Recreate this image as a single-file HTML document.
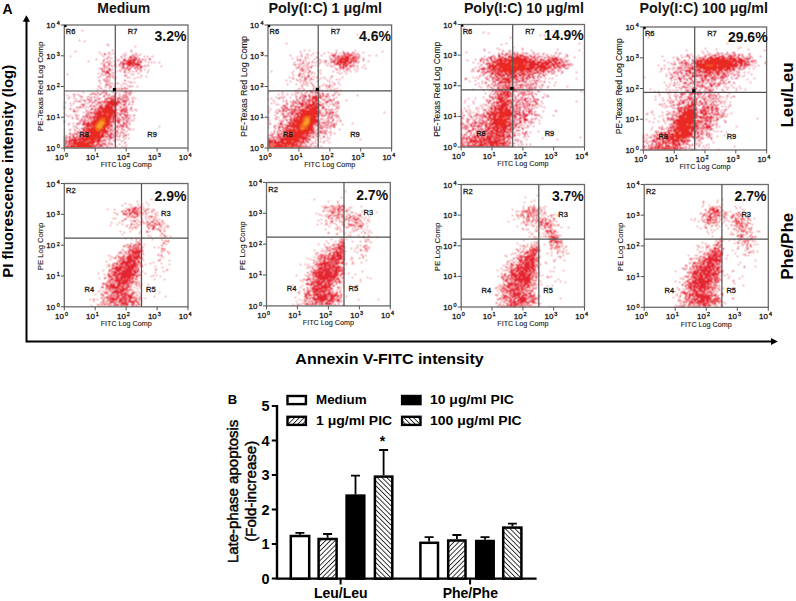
<!DOCTYPE html><html><head><meta charset="utf-8"><style>html,body{margin:0;padding:0;background:#fff;}svg{display:block;}text{font-family:"Liberation Sans", sans-serif;}.tk{font-size:8px;fill:#1a1a1a;}.sup{font-size:5.5px;fill:#1a1a1a;}.rl{font-size:7.5px;fill:#1a1a1a;}.ax{font-size:7.2px;fill:#1a1a1a;}.pct{font-size:14px;font-weight:bold;fill:#111;}.hd{font-size:14px;font-weight:bold;fill:#111;}.bb{font-weight:bold;fill:#000;}.tk,.sup,.rl{stroke:#1a1a1a;stroke-width:0.3px;}.ax{stroke:#1a1a1a;stroke-width:0.12px;}.rg{fill:#000;stroke:#000;stroke-width:0.45px;}</style></head><body>
<svg width="796" height="601" viewBox="0 0 796 601">
<defs><pattern id="hf" patternUnits="userSpaceOnUse" width="3.4" height="3.4" patternTransform="rotate(45)"><rect width="3.4" height="3.4" fill="#fff"/><rect width="0.9" height="3.4" fill="#222"/></pattern><pattern id="hb" patternUnits="userSpaceOnUse" width="3.4" height="3.4" patternTransform="rotate(-45)"><rect width="3.4" height="3.4" fill="#fff"/><rect width="0.9" height="3.4" fill="#222"/></pattern><filter id="bl" x="-5%" y="-5%" width="110%" height="110%"><feConvolveMatrix order="3" kernelMatrix="1 2 1 2 4 2 1 2 1" divisor="16" edgeMode="none" preserveAlpha="false"/></filter></defs>
<rect width="796" height="601" fill="#fff"/>
<text x="2.5" y="13.6" class="bb" style="font-size:14px">A</text>
<text x="123.8" y="12.8" text-anchor="middle" class="hd">Medium</text>
<text x="325.2" y="12.8" text-anchor="middle" class="hd" textLength="113.5" lengthAdjust="spacingAndGlyphs">Poly(I:C) 1 μg/ml</text>
<text x="523.9" y="12.8" text-anchor="middle" class="hd" textLength="120" lengthAdjust="spacingAndGlyphs">Poly(I:C) 10 μg/ml</text>
<text x="703.7" y="12.8" text-anchor="middle" class="hd" textLength="128.4" lengthAdjust="spacingAndGlyphs">Poly(I:C) 100 μg/ml</text>
<path d="M26.5 21 V341.5 H772" fill="none" stroke="#000" stroke-width="2"/>
<path d="M26.4 15.3 L22.8 21.8 L30 21.8 Z" fill="#000"/>
<path d="M777.8 341.5 L771 338.1 L771 345 Z" fill="#000"/>
<text transform="translate(13.4,171.3) rotate(-90) scale(1.07,0.98)" text-anchor="middle" class="bb" style="font-size:14px">PI fluorescence intensity (log)</text>
<text transform="translate(389.5,363.7) scale(1.0,0.92)" text-anchor="middle" class="bb" style="font-size:16px">Annexin V-FITC intensity</text>
<text transform="translate(793.2,95) rotate(-90)" text-anchor="middle" class="bb" style="font-size:17px">Leu/Leu</text>
<text transform="translate(793.2,246.3) rotate(-90)" text-anchor="middle" class="bb" style="font-size:17px">Phe/Phe</text>
<g shape-rendering="crispEdges" filter="url(#bl)"><path d="M82 30.5h1m-4 10h1m4 1h1m22 3h1m0 1h1m26 1h1m-24 4h1m18 0h1m-57 1h1m55 0h1m-33 1h1m9 0h1m-6 1h1m3 0h1m4 0h1m11 0h1m10 0h1m-36 1h1m2 0h2m4 0h1m12 0h1m9 0h1m1 0h1m4 0h1m-16 1h1m6 0h1m3 0h1m1 0h1m-69 1h1m32 0h1m4 0h1m12 0h1m2 0h1m5 0h2m1 0h2m9 0h1m2 0h1m4 0h1m-44 1h1m5 0h1m5 0h1m7 0h3m2 0h2m1 0h1m-32 1h2m3 0h1m13 0h1m9 0h2m2 0h1m9 0h1m-54 1h1m7 0h1m13 0h1m4 0h2m10 0h2m1 0h1m1 0h1m1 0h2m1 0h1m3 0h2m-48 1h1m5 0h1m7 0h1m5 0h3m12 0h1m-51 1h1m14 0h1m3 0h1m6 0h1m5 0h1m3 0h1m14 0h3m3 0h1m-41 1h1m1 0h1m1 0h1m1 0h1m9 0h3m16 0h2m6 0h1m2 0h1m2 0h1m4 0h1m-59 1h1m1 0h1m5 0h1m5 0h1m4 0h2m1 0h1m-20 1h1m3 0h2m5 0h1m3 0h1m2 0h3m-22 1h2m4 0h1m1 0h1m2 0h1m4 0h1m2 0h2m15 0h2m3 0h1m2 0h2m-45 1h1m1 0h2m4 0h1m3 0h1m3 0h1m2 0h1m16 0h3m2 0h1m15 0h1m-58 1h1m17 0h3m10 0h1m1 0h2m1 0h2m-43 1h1m1 0h2m1 0h1m1 0h1m1 0h2m12 0h1m2 0h3m1 0h2m3 0h2m1 0h1m2 0h1m-40 1h1m7 0h2m1 0h1m8 0h1m2 0h1m3 0h2m8 0h1m1 0h1m3 0h1m-43 1h1m1 0h1m2 0h1m1 0h2m8 0h1m5 0h1m2 0h1m7 0h1m4 0h1m6 0h1m-47 1h3m1 0h3m7 0h1m3 0h1m3 0h1m5 0h1m2 0h1m2 0h1m3 0h1m-36 1h4m3 0h1m11 0h2m2 0h1m18 0h1m-50 1h1m3 0h1m2 0h1m1 0h3m3 0h1m24 0h1m-72 1h1m33 0h1m3 0h1m3 0h2m20 0h1m1 0h1m-31 1h1m8 0h1m11 0h3m14 0h1m-42 1h1m5 0h5m2 0h1m32 0h1m-49 1h1m13 0h1m3 0h1m10 0h1m1 0h1m7 0h1m2 0h1m-35 1h1m2 0h1m4 0h1m19 0h1m-32 1h1m1 0h1m1 0h1m-9 1h1m4 0h1m4 0h1m14 0h2m-27 1h1m5 0h4m19 0h1m1 1h2m2 0h1m-35 1h1m5 0h1m2 0h2m1 0h1m3 0h1m1 0h1m4 0h1m1 0h1m-20 1h2m-3 1h1m1 0h1m1 0h1m4 0h1m6 0h1m5 0h1m-30 1h2m10 0h2m17 0h2m1 0h1m4 0h1m-33 1h1m4 0h1m3 0h1m9 0h1m-25 1h2m7 0h1m6 0h1m2 0h1m1 0h2m1 0h1m1 0h2m-31 1h1m18 0h1m1 0h1m3 0h1m2 0h1m-23 1h1m1 0h1m14 0h1m9 0h1m-27 1h1m8 0h1m9 0h1m1 0h2m1 0h1m-46 1h1m13 0h1m4 0h2m2 0h1m5 0h1m3 0h1m8 0h2m3 0h2m-40 1h3m3 0h1m2 0h1m3 0h2m8 0h1m3 0h1m8 0h2m-66 1h1m8 0h2m2 0h1m12 0h2m3 0h2m2 0h2m5 0h1m2 0h1m5 0h1m8 0h1m1 0h1m3 0h1m-64 1h1m11 0h1m24 0h1m2 0h1m1 0h1m4 0h1m4 0h1m3 0h2m1 0h1m2 0h1m-56 1h1m5 0h1m1 0h1m5 0h1m5 0h1m2 0h1m5 0h2m6 0h5m4 0h1m1 0h1m3 0h1m-58 1h1m11 0h1m5 0h1m2 0h2m2 0h1m13 0h1m1 0h1m4 0h1m2 0h1m4 0h5m5 0h1m-66 1h1m5 0h1m22 0h1m1 0h2m4 0h1m1 0h2m8 0h4m1 0h1m5 0h1m3 0h1m2 0h1m-60 1h1m4 0h1m5 0h3m1 0h1m3 0h1m2 0h1m6 0h3m12 0h2m1 0h1m1 0h1m1 0h1m-45 1h3m4 0h1m4 0h2m7 0h1m13 0h1m3 0h1m1 0h1m1 0h1m1 0h1m3 0h1m-59 1h1m1 0h1m1 0h3m8 0h1m1 0h1m2 0h1m4 0h1m1 0h2m1 0h1m13 0h2m2 0h5m6 0h1m-69 1h1m19 0h1m3 0h1m2 0h1m1 0h1m2 0h3m1 0h1m1 0h1m14 0h3m2 0h1m1 0h1m3 0h1m2 0h1m-69 1h1m5 0h1m2 0h1m13 0h1m4 0h1m6 0h2m19 0h1m4 0h1m-45 1h4m11 0h2m3 0h1m16 0h1m2 0h1m1 0h3m2 0h2m2 0h1m-62 1h1m11 0h1m6 0h2m2 0h1m4 0h1m23 0h2m-61 1h1m15 0h1m2 0h1m2 0h1m3 0h1m2 0h2m1 0h1m2 0h2m18 0h1m1 0h1m4 0h1m-63 1h1m11 0h2m1 0h2m1 0h1m5 0h1m31 0h1m3 0h1m1 0h1m4 0h1m-68 1h1m5 0h1m14 0h1m5 0h2m2 0h1m24 0h1m1 0h1m1 0h2m4 0h2m-62 1h1m2 0h1m4 0h1m12 0h2m1 0h2m22 0h1m3 0h2m1 0h3m7 0h1m-62 1h1m11 0h1m3 0h1m4 0h1m24 0h3m1 0h1m1 0h1m3 0h1m1 0h1m3 0h1m-64 1h3m1 0h1m8 0h1m1 0h1m4 0h1m26 0h3m1 0h3m-44 1h1m4 0h1m1 0h2m1 0h1m23 0h1m8 0h2m-64 1h1m21 0h1m1 0h1m1 0h3m25 0h1m1 0h4m-49 1h1m10 0h1m1 0h1m30 0h2m3 0h2m1 0h1m-62 1h1m3 0h1m5 0h1m1 0h1m7 0h2m1 0h1m27 0h1m2 0h1m3 0h5m1 0h1m2 0h2m-67 1h1m7 0h1m6 0h3m1 0h1m1 0h2m30 0h1m4 0h1m-55 1h1m9 0h1m3 0h2m2 0h2m26 0h1m3 0h2m1 0h3m1 0h1m-58 1h1m3 0h2m6 0h1m3 0h3m26 0h1m1 0h1m2 0h1m1 0h1m4 0h1m4 0h1m-57 1h1m2 0h2m2 0h1m32 0h1m1 0h1m2 0h1m1 0h1m1 0h2m-65 1h1m15 0h1m2 0h1m1 0h1m1 0h1m29 0h3m1 0h1m1 0h1m2 0h1m4 0h1m1 0h1m-70 1h1m15 0h1m1 0h1m1 0h2m28 0h1m1 0h1m1 0h2m6 0h2m1 0h1m-66 1h1m14 0h1m3 0h2m29 0h1m2 0h3m3 0h2m2 0h1m-59 1h1m3 0h1m3 0h2m1 0h1m2 0h3m28 0h1m3 0h1m4 0h2m1 0h1m2 0h1m-62 1h1m7 0h1m1 0h1m3 0h3m35 0h1m2 0h1m1 0h2m2 0h1m-47 1h1m28 0h1m2 0h1m1 0h1m2 0h4m2 0h1m-54 1h1m1 0h1m40 0h1m1 0h1m1 0h1m1 0h2m1 0h1m1 0h1m31 0h1m-84 1h1m7 0h1m27 0h1m3 0h2m1 0h1m2 0h1m3 0h2m-51 1h1m3 0h3m30 0h1m7 0h1m6 0h1m-66 1h1m5 0h1m3 0h1m4 0h1m3 0h1m26 0h2m1 0h1m1 0h1m2 0h1m2 0h1m1 0h1m4 0h1m1 0h1m2 0h1m-65 1h1m5 0h1m34 0h1m1 0h1m3 0h1m7 0h1m-48 1h1m1 0h1m1 0h2m27 0h1m2 0h1m2 0h2m3 0h1m4 0h1m-63 1h1m9 0h1m2 0h1m1 0h1m31 0h1m3 0h1m1 0h1m3 0h1m1 0h1m-55 1h2m4 0h1m1 0h2m31 0h2m1 0h1m1 0h1m2 0h1m1 0h1m2 0h1m-54 1h1m1 0h2m1 0h2m33 0h3m3 0h1m8 0h1m2 0h1m-63 1h1m6 0h1m35 0h2m2 0h2m1 0h1m3 0h1m2 0h1m1 0h2m-63 1h1m1 0h1m2 0h2m1 0h2m33 0h1m1 0h2m5 0h1m1 0h2m4 0h1m-61 1h1m2 0h1m1 0h1m37 0h1m1 0h6m8 0h1m-59 1h2m2 0h2m39 0h2m13 0h1m2 0h1m-65 1h1m39 0h1m1 0h1m1 0h2m5 0h1m1 0h1m1 0h1m-56 1h2m37 0h3m7 0h1m1 0h1m7 0h1m-15 1h1m4 0h1m6 0h1m-17 1h1m3 0h1m15 0h1m-24 1h3m3 0h1m2 0h1m12 0h1m-23 1h1m1 0h2m1 0h1m1 0h1m1 0h2m6 0h1m-21 1h4m2 0h1m20 0h1m-29 1h1m1 0h2m5 0h1m8 0h1m5 0h1m-25 1h2m2 0h2m2 0h2m1 0h2m1 0h1m11 0h2" stroke="rgb(222, 30, 55)" stroke-width="1" fill="none"/><path d="M129 58.5h1m1 0h1m1 0h1m-6 1h1m1 0h1m1 0h3m-9 1h1m1 0h8m-10 1h6m1 0h2m2 0h2m-12 1h8m2 0h1m-14 1h16m-14 1h7m1 0h6m-12 1h3m1 0h3m1 0h3m-12 1h2m1 0h1m1 0h2m2 0h1m-10 1h1m3 0h1m-23 31h6m-4 1h2m1 0h1m2 0h1m-8 1h5m1 0h1m-12 1h11m1 0h1m-14 1h1m1 0h12m-14 1h1m1 0h1m1 0h10m-16 1h1m3 0h12m-17 1h1m2 0h6m1 0h6m-16 1h2m2 0h8m1 0h1m1 0h1m-18 1h4m1 0h9m1 0h2m-19 1h9m5 0h2m2 0h1m-19 1h1m1 0h1m1 0h4m7 0h2m1 0h2m-20 1h4m1 0h1m10 0h4m6 0h1m-29 1h2m1 0h4m11 0h3m-22 1h1m1 0h6m11 0h3m8 0h1m-31 1h5m14 0h4m-23 1h4m16 0h2m-24 1h1m2 0h1m17 0h4m-24 1h4m16 0h3m-24 1h4m15 0h4m1 0h1m-24 1h2m18 0h2m1 0h1m-26 1h2m1 0h1m16 0h4m-27 1h1m1 0h1m2 0h1m19 0h1m1 0h2m-26 1h3m15 0h5m-27 1h3m1 0h2m17 0h1m1 0h1m-27 1h6m17 0h1m1 0h1m-26 1h4m1 0h1m17 0h1m1 0h1m-27 1h6m17 0h4m-26 1h5m16 0h1m2 0h2m-27 1h2m1 0h1m18 0h3m-26 1h1m1 0h3m18 0h2m1 0h1m-27 1h1m1 0h3m19 0h1m-26 1h4m1 0h1m16 0h3m-25 1h1m1 0h3m16 0h5m-28 1h1m2 0h2m18 0h3m1 0h1m-28 1h1m1 0h1m19 0h1m1 0h3m-26 1h2m17 0h3m1 0h1m1 0h2m-32 1h1m1 0h6m16 0h4m3 0h1m-32 1h1m1 0h2m1 0h2m15 0h5m1 0h2m-34 1h5m1 0h1m1 0h3m15 0h5m1 0h1m-34 1h1m1 0h2m2 0h5m15 0h3m-32 1h1m1 0h12m15 0h3m-35 1h1m2 0h9m1 0h2m16 0h4m1 0h1m-39 1h1m1 0h6m1 0h4m1 0h3m15 0h5m1 0h1m-39 1h1m1 0h1m1 0h2m1 0h1m1 0h6m14 0h3m1 0h2m2 0h1m-38 1h3m2 0h8m14 0h3m3 0h3m-32 1h1m24 0h1m2 0h2m1 0h2m-33 1h1m1 0h1m22 0h5m-30 1h1m1 0h1m1 0h1m18 0h3m1 0h1m-28 1h6m15 0h8" stroke="rgb(228, 34, 42)" stroke-width="1" fill="none"/><path d="M106 108.5h5m-6 1h7m-9 1h10m-11 1h11m-11 1h11m-14 1h3m1 0h10m-15 1h9m1 0h5m-16 1h16m-16 1h15m-16 1h15m-15 1h5m4 0h6m-16 1h5m5 0h6m-17 1h5m6 0h5m-16 1h4m7 0h4m-16 1h4m9 0h4m-18 1h5m8 0h4m-17 1h4m9 0h4m-18 1h4m9 0h4m-17 1h1m1 0h2m8 0h4m-16 1h4m8 0h3m-17 1h6m8 0h3m-17 1h7m5 0h5m-17 1h7m4 0h5m-17 1h16m-17 1h14m1 0h2m-18 1h3m1 0h13m-18 1h4m1 0h10m-15 1h16m-17 1h15m-14 1h14m-16 1h15m-15 1h13m1 0h1m-16 1h7m1 0h7m-16 1h6m1 0h7m-16 1h6m1 0h7m-16 1h14m-27 1h2m1 0h1m1 0h1m1 0h1m1 0h17m1 0h2m-29 1h1m6 0h4m1 0h16m-28 1h4m3 0h1m1 0h18m-27 1h4m6 0h15" stroke="rgb(234, 42, 36)" stroke-width="1" fill="none"/><path d="M101 118.5h4m-5 1h5m-6 1h6m-7 1h3m2 0h2m-8 1h2m5 0h2m-9 1h2m5 0h1m-9 1h2m5 0h2m-10 1h2m5 0h2m-9 1h2m5 0h1m-8 1h2m5 0h1m-8 1h4m1 0h3m-7 1h5m-5 1h4" stroke="rgb(240, 105, 30)" stroke-width="1" fill="none"/><path d="M101 121.5h2m-4 1h5m-5 1h5m-6 1h5m-6 1h5m-5 1h5m-5 1h5m-3 1h1" stroke="rgb(246, 160, 40)" stroke-width="1" fill="none"/></g>
<rect x="64.3" y="25" width="123.7" height="123.0" fill="none" stroke="#6a6a6a" stroke-width="1.3"/>
<path d="M115.3 25 V148 M64.3 91 H188" stroke="#505050" stroke-width="1.2" fill="none"/>
<rect x="112.8" y="88.0" width="3.2" height="3.2" fill="#000"/>
<rect x="64.3" y="25" width="2.2" height="2.2" fill="#000"/>
<path d="M64.3 148 v3.5 M64.3 148.0 h-3.5 M95.2 148 v3.5 M64.3 117.2 h-3.5 M126.2 148 v3.5 M64.3 86.5 h-3.5 M157.1 148 v3.5 M64.3 55.8 h-3.5 M188.0 148 v3.5 M64.3 25.0 h-3.5 " stroke="#555" stroke-width="1" fill="none"/>
<text x="64.0" y="159.7" text-anchor="end" class="tk">10</text><text x="64.9" y="157.1" class="sup">0</text>
<text x="55.2" y="151.0" text-anchor="end" class="tk">10</text><text x="56.7" y="148.4" class="sup">0</text>
<text x="94.9" y="159.7" text-anchor="end" class="tk">10</text><text x="95.8" y="157.1" class="sup">1</text>
<text x="55.2" y="120.2" text-anchor="end" class="tk">10</text><text x="56.7" y="117.7" class="sup">1</text>
<text x="125.9" y="159.7" text-anchor="end" class="tk">10</text><text x="126.8" y="157.1" class="sup">2</text>
<text x="55.2" y="89.5" text-anchor="end" class="tk">10</text><text x="56.7" y="86.9" class="sup">2</text>
<text x="156.8" y="159.7" text-anchor="end" class="tk">10</text><text x="157.7" y="157.1" class="sup">3</text>
<text x="55.2" y="58.8" text-anchor="end" class="tk">10</text><text x="56.7" y="56.1" class="sup">3</text>
<text x="187.7" y="159.7" text-anchor="end" class="tk">10</text><text x="188.6" y="157.1" class="sup">4</text>
<text x="55.2" y="28.0" text-anchor="end" class="tk">10</text><text x="56.7" y="25.4" class="sup">4</text>
<text x="126.2" y="167.3" text-anchor="middle" class="ax">FITC Log Comp</text>
<text transform="translate(43.1,86.4) rotate(-90)" text-anchor="middle" class="ax" style="font-size:7.80px" textLength="89.5" lengthAdjust="spacingAndGlyphs">PE-Texas Red Log Comp</text>
<text x="65.8" y="34.0" class="rl">R6</text>
<text x="127.8" y="34.0" class="rl">R7</text>
<text x="79.3" y="136.5" class="rl">R8</text>
<text x="147.3" y="136.5" class="rl">R9</text>
<text x="186.5" y="40.7" text-anchor="end" class="pct">3.2%</text>
<g shape-rendering="crispEdges" filter="url(#bl)"><path d="M357 34.5h1m-72 9h1m17 7h1m4 0h1m26 0h1m18 0h1m-56 1h1m42 0h1m38 0h1m-66 1h1m10 0h1m7 0h1m6 0h1m3 0h1m4 0h2m9 0h1m-63 1h1m11 0h1m4 0h1m5 0h1m6 0h1m3 0h1m4 0h1m2 0h3m1 0h2m5 0h1m2 0h1m-52 1h1m1 0h1m24 0h1m1 0h1m8 0h1m1 0h1m1 0h5m2 0h1m2 0h1m-69 1h1m10 0h1m9 0h1m9 0h1m9 0h5m2 0h1m2 0h1m11 0h1m2 0h1m2 0h1m9 0h1m6 0h1m-76 1h1m5 0h1m21 0h1m3 0h2m2 0h3m15 0h1m2 0h1m-62 1h1m7 0h1m10 0h2m17 0h2m19 0h2m1 0h1m-68 1h1m12 0h1m2 0h1m21 0h1m1 0h1m1 0h1m23 0h1m4 0h1m-67 1h1m2 0h1m13 0h1m4 0h1m10 0h1m25 0h2m5 0h1m-67 1h1m1 0h2m2 0h1m1 0h1m14 0h1m4 0h1m5 0h2m1 0h1m28 0h1m-52 1h1m4 0h1m5 0h1m1 0h2m5 0h3m20 0h2m1 0h1m9 0h1m-75 1h1m7 0h2m2 0h1m2 0h1m2 0h1m2 0h1m4 0h1m9 0h2m1 0h3m15 0h1m1 0h2m1 0h1m1 0h1m-59 1h1m2 0h1m4 0h1m10 0h1m5 0h1m2 0h1m-36 1h1m1 0h1m2 0h1m2 0h1m5 0h1m26 0h2m16 0h1m1 0h1m-60 1h1m3 0h1m4 0h1m1 0h1m5 0h1m2 0h1m2 0h1m8 0h1m2 0h1m18 0h2m1 0h1m4 0h1m6 0h1m-63 1h1m5 0h1m2 0h1m19 0h1m1 0h1m12 0h1m3 0h2m1 0h2m-58 1h3m6 0h1m3 0h2m27 0h2m1 0h3m5 0h1m6 0h1m4 0h1m-67 1h1m4 0h2m1 0h1m3 0h1m26 0h1m4 0h2m1 0h1m2 0h3m16 0h1m-66 1h1m1 0h1m4 0h1m28 0h2m5 0h1m5 0h1m4 0h1m2 0h1m-58 1h1m1 0h2m1 0h1m3 0h1m10 0h1m18 0h1m6 0h2m-77 1h1m21 0h1m8 0h1m6 0h2m7 0h1m14 0h1m10 0h1m5 0h1m5 0h1m-52 1h1m2 0h1m3 0h1m24 0h1m-46 1h1m6 0h2m2 0h1m4 0h1m2 0h1m2 0h1m5 0h1m18 0h1m1 0h1m4 0h1m-48 1h1m1 0h1m-9 1h1m4 0h2m4 0h1m3 0h2m-11 1h1m2 0h1m4 0h2m4 0h1m3 0h1m13 0h2m-44 1h1m11 0h1m2 0h1m1 0h1m1 0h1m7 0h1m6 0h1m18 0h1m-51 1h2m10 0h2m4 0h2m8 0h1m4 0h1m4 0h1m-35 1h1m3 0h1m4 0h2m4 0h1m1 0h1m22 0h1m2 0h1m-54 1h1m10 0h1m1 0h1m2 0h1m1 0h1m4 0h1m8 0h1m8 0h1m-38 1h1m14 0h1m11 0h1m11 0h1m-30 1h1m2 0h1m2 0h1m3 0h1m21 0h1m5 0h1m-32 1h1m3 0h1m22 0h1m-48 1h1m8 0h1m6 0h1m1 0h1m6 0h1m11 0h1m4 0h1m4 0h1m4 0h1m-39 1h1m5 0h1m5 0h1m8 0h1m3 0h1m3 0h1m-29 1h1m10 0h1m5 0h1m6 0h1m1 0h2m2 0h1m-18 1h1m3 0h1m9 0h1m-31 1h1m2 0h1m10 0h1m13 0h1m9 0h1m-40 1h1m5 0h1m8 0h1m5 0h1m10 0h1m2 0h1m1 0h1m-41 1h1m7 0h1m6 0h1m5 0h1m2 0h1m2 0h1m3 0h1m4 0h1m8 0h1m-45 1h1m10 0h1m2 0h2m4 0h1m1 0h1m15 0h1m1 0h2m-70 1h1m13 0h1m15 0h1m2 0h1m4 0h1m4 0h3m1 0h1m1 0h2m3 0h1m-28 1h1m1 0h1m7 0h1m9 0h2m2 0h1m2 0h1m5 0h1m6 0h1m-58 1h1m3 0h1m4 0h1m4 0h1m8 0h1m1 0h1m5 0h1m2 0h1m6 0h1m2 0h2m2 0h2m6 0h1m3 0h2m-45 1h1m6 0h1m1 0h2m2 0h2m9 0h2m2 0h1m4 0h1m3 0h2m23 0h1m-74 1h1m11 0h1m3 0h1m1 0h1m1 0h3m2 0h2m8 0h1m1 0h1m1 0h1m1 0h3m-52 1h1m3 0h1m1 0h1m7 0h1m5 0h1m3 0h1m2 0h1m1 0h1m3 0h1m10 0h2m4 0h1m2 0h1m6 0h1m-66 1h1m6 0h2m3 0h1m15 0h2m2 0h2m5 0h1m9 0h1m13 0h1m-67 1h1m27 0h2m4 0h1m2 0h1m1 0h1m1 0h1m12 0h2m1 0h1m2 0h1m1 0h1m2 0h1m-61 1h1m12 0h1m6 0h1m3 0h1m4 0h3m2 0h3m14 0h1m4 0h3m1 0h1m12 0h1m-64 1h1m2 0h1m3 0h1m2 0h1m1 0h1m2 0h2m2 0h1m1 0h1m2 0h1m18 0h3m2 0h1m5 0h1m-64 1h1m17 0h2m1 0h2m2 0h1m1 0h1m1 0h1m17 0h1m3 0h3m7 0h1m1 0h2m-68 1h1m14 0h2m3 0h1m2 0h1m1 0h1m1 0h5m20 0h1m8 0h1m2 0h1m2 0h1m-63 1h1m1 0h1m8 0h1m5 0h1m3 0h1m2 0h2m18 0h1m1 0h1m3 0h1m3 0h1m2 0h1m3 0h1m-55 1h3m5 0h3m7 0h1m19 0h1m1 0h1m9 0h1m1 0h1m-54 1h1m1 0h1m1 0h1m3 0h2m2 0h2m3 0h1m22 0h1m5 0h1m8 0h1m1 0h1m-72 1h1m12 0h1m2 0h1m1 0h1m8 0h1m1 0h1m1 0h1m22 0h3m11 0h1m-55 1h1m1 0h4m2 0h1m1 0h1m2 0h1m26 0h2m13 0h2m-69 1h1m7 0h1m3 0h2m3 0h3m1 0h1m33 0h2m1 0h1m2 0h2m2 0h1m-60 1h1m2 0h1m3 0h2m1 0h1m2 0h1m1 0h2m28 0h1m3 0h1m3 0h2m-63 1h1m10 0h2m1 0h2m1 0h2m5 0h1m33 0h1m5 0h1m4 0h1m-70 1h1m6 0h1m1 0h1m11 0h2m32 0h1m2 0h2m1 0h5m1 0h1m48 0h1m-108 1h1m4 0h2m3 0h2m2 0h3m27 0h1m3 0h1m1 0h1m1 0h2m1 0h1m-52 1h1m1 0h1m4 0h1m2 0h2m28 0h1m4 0h1m2 0h1m2 0h1m3 0h1m-62 1h1m7 0h1m2 0h1m2 0h1m1 0h1m28 0h1m1 0h4m2 0h2m2 0h1m1 0h2m1 0h1m-55 1h5m1 0h1m32 0h1m8 0h1m5 0h2m-71 1h1m7 0h1m1 0h1m5 0h1m5 0h1m36 0h3m1 0h2m3 0h1m-69 1h1m6 0h1m7 0h1m1 0h1m35 0h1m8 0h1m8 0h1m-64 1h1m9 0h1m2 0h2m28 0h1m1 0h1m1 0h1m2 0h1m1 0h1m3 0h2m-65 1h1m9 0h1m1 0h1m1 0h1m2 0h2m40 0h1m4 0h1m3 0h1m2 0h1m-59 1h1m36 0h1m4 0h1m1 0h1m1 0h1m3 0h1m7 0h1m-73 1h1m11 0h2m5 0h2m31 0h1m1 0h2m2 0h1m1 0h1m1 0h2m4 0h1m-67 1h1m7 0h1m1 0h2m37 0h1m2 0h1m1 0h2m2 0h1m5 0h1m17 0h1m-84 1h1m10 0h4m1 0h1m1 0h1m30 0h2m5 0h1m1 0h1m3 0h4m1 0h1m5 0h1m-69 1h1m1 0h1m2 0h1m5 0h1m31 0h1m2 0h2m1 0h1m2 0h1m1 0h1m1 0h1m3 0h1m-61 1h1m4 0h1m1 0h2m35 0h2m1 0h1m2 0h1m2 0h1m2 0h1m1 0h3m-67 1h1m5 0h1m3 0h3m1 0h2m34 0h1m1 0h1m1 0h1m1 0h1m1 0h1m2 0h1m4 0h1m-60 1h1m2 0h1m39 0h1m1 0h3m4 0h1m2 0h1m-52 1h1m2 0h2m33 0h2m20 0h1m-66 1h1m3 0h1m1 0h1m35 0h1m2 0h1m2 0h1m1 0h1m1 0h1m-53 1h1m2 0h1m2 0h1m1 0h2m35 0h3m2 0h1m1 0h1m3 0h1m-60 1h1m6 0h1m34 0h3m1 0h1m2 0h2m1 0h1m1 0h1m3 0h1m24 0h1m-82 1h2m2 0h1m2 0h3m30 0h1m3 0h3m2 0h1m1 0h2m5 0h1m2 0h1m-65 1h1m1 0h1m4 0h3m34 0h1m1 0h1m9 0h1m-59 1h1m1 0h1m1 0h1m5 0h2m32 0h1m3 0h1m2 0h1m10 0h1m-60 1h2m2 0h1m1 0h2m34 0h1m3 0h2m4 0h2m-57 1h1m4 0h2m1 0h1m35 0h2m1 0h1m7 0h1m3 0h1m-60 1h1m1 0h1m2 0h1m36 0h1m9 0h1m8 0h1m-62 1h2m38 0h2m7 0h1m42 0h1m-53 1h1m1 0h1m4 0h1m11 0h1m-22 1h2m12 0h1m3 0h1m-21 1h1m2 0h2m3 0h1m2 0h1m7 0h1m5 0h1m-26 1h1m8 0h1m-9 1h1m4 0h2m5 0h1m-12 1h1m-2 1h2m2 0h1m1 0h1m2 0h2m1 0h1m3 0h1m-21 1h5m1 0h3" stroke="rgb(222, 30, 55)" stroke-width="1" fill="none"/><path d="M343 55.5h2m1 0h1m1 0h1m1 0h2m-11 1h2m1 0h7m2 0h1m-16 1h1m1 0h1m1 0h2m1 0h4m3 0h4m-19 1h2m1 0h15m-20 1h2m1 0h11m2 0h1m1 0h1m1 0h1m-21 1h1m1 0h1m1 0h4m1 0h5m1 0h6m-19 1h12m1 0h2m1 0h1m-17 1h10m1 0h3m-15 1h3m1 0h2m1 0h4m1 0h3m-15 1h5m1 0h3m1 0h2m-9 1h2m2 0h5m-8 1h1m1 0h2m1 0h1m-31 29h2m-5 1h5m-5 1h8m-8 1h6m-8 1h1m1 0h2m1 0h3m-7 1h2m2 0h4m-10 1h2m1 0h5m2 0h1m-15 1h2m1 0h2m2 0h3m1 0h1m1 0h1m-16 1h1m1 0h2m2 0h1m2 0h7m-17 1h3m1 0h9m1 0h4m-18 1h1m2 0h2m1 0h9m1 0h3m-25 1h2m3 0h4m1 0h7m1 0h5m-21 1h1m1 0h1m4 0h5m2 0h7m-20 1h1m2 0h1m1 0h6m4 0h5m-26 1h4m1 0h2m1 0h4m1 0h1m9 0h1m2 0h1m-26 1h2m1 0h1m1 0h7m10 0h2m1 0h1m-27 1h2m1 0h1m1 0h1m1 0h5m11 0h4m-29 1h2m1 0h2m1 0h1m1 0h2m1 0h1m13 0h2m1 0h2m-25 1h6m14 0h4m-26 1h5m17 0h3m-25 1h1m2 0h2m18 0h2m-26 1h1m1 0h1m1 0h2m17 0h3m-28 1h1m2 0h5m17 0h1m1 0h1m-28 1h1m1 0h2m1 0h2m17 0h1m-25 1h1m1 0h4m18 0h3m-28 1h1m1 0h4m18 0h5m-29 1h3m1 0h2m18 0h5m-30 1h2m1 0h4m18 0h4m-29 1h6m18 0h2m1 0h1m1 0h1m-30 1h2m1 0h2m19 0h3m1 0h1m-31 1h7m22 0h1m-31 1h8m18 0h2m1 0h1m-31 1h3m3 0h2m19 0h1m-29 1h2m1 0h4m20 0h4m-30 1h3m1 0h3m19 0h2m-29 1h1m1 0h5m19 0h5m-31 1h6m19 0h1m1 0h3m-30 1h3m1 0h1m19 0h1m1 0h2m-27 1h1m1 0h1m19 0h6m-32 1h1m2 0h3m1 0h1m17 0h3m-27 1h6m16 0h4m1 0h2m-31 1h2m1 0h2m17 0h3m1 0h5m-33 1h3m1 0h1m1 0h2m16 0h5m-36 1h1m5 0h1m1 0h7m15 0h8m-36 1h1m1 0h2m1 0h1m1 0h6m14 0h1m1 0h5m-39 1h8m2 0h1m1 0h6m11 0h4m1 0h2m2 0h1m-39 1h5m1 0h3m1 0h6m11 0h5m1 0h3m1 0h1m-38 1h15m12 0h2m1 0h6m-36 1h3m1 0h1m1 0h6m12 0h1m1 0h1m1 0h2m2 0h1m1 0h1m-6 1h1m1 0h3m-7 1h3m1 0h1m1 0h1m1 0h1m-9 1h1m1 0h4m1 0h1m-31 1h2m17 0h10" stroke="rgb(228, 34, 42)" stroke-width="1" fill="none"/><path d="M311 107.5h1m-2 1h4m-5 1h7m-10 1h10m-11 1h11m-13 1h13m-14 1h14m-16 1h16m-16 1h16m-17 1h6m6 0h5m-17 1h5m6 0h6m-17 1h4m7 0h5m-18 1h6m7 0h5m-19 1h7m7 0h4m-18 1h7m7 0h4m-18 1h6m8 0h4m-18 1h6m7 0h4m-19 1h7m8 0h4m-19 1h6m8 0h5m-19 1h6m7 0h5m-19 1h7m7 0h5m-19 1h2m1 0h4m7 0h4m-19 1h8m4 0h7m-20 1h5m1 0h13m-20 1h19m-20 1h19m-19 1h1m1 0h1m1 0h14m-18 1h16m-17 1h15m-17 1h16m-16 1h16m-16 1h15m-15 1h13m-13 1h11m-11 1h6m1 0h2m-12 1h12m-14 1h11m1 0h1m-26 1h3m1 0h3m1 0h21m-29 1h2m2 0h1m1 0h9m1 0h3m1 0h2m1 0h4m-27 1h4m1 0h16m1 0h4m-26 1h4m2 0h17" stroke="rgb(234, 42, 36)" stroke-width="1" fill="none"/><path d="M305 116.5h6m-7 1h6m-7 1h3m2 0h2m-7 1h3m3 0h1m-7 1h2m4 0h1m-7 1h2m4 0h1m-8 1h2m5 0h1m-8 1h2m4 0h1m-8 1h2m5 0h1m-9 1h4m1 0h3m-8 1h7m-7 1h7m-7 1h2m1 0h4m-7 1h4m-33 15h1m-1 1h1" stroke="rgb(240, 105, 30)" stroke-width="1" fill="none"/><path d="M306 118.5h2m-2 1h3m-4 1h4m-4 1h4m-5 1h5m-5 1h4m-5 1h5m-4 1h1" stroke="rgb(246, 160, 40)" stroke-width="1" fill="none"/></g>
<rect x="268" y="25" width="123.6" height="123.0" fill="none" stroke="#6a6a6a" stroke-width="1.3"/>
<path d="M318.2 25 V148 M268 90.8 H391.6" stroke="#505050" stroke-width="1.2" fill="none"/>
<rect x="315.7" y="87.8" width="3.2" height="3.2" fill="#000"/>
<rect x="268" y="25" width="2.2" height="2.2" fill="#000"/>
<path d="M268.0 148 v3.5 M268 148.0 h-3.5 M298.9 148 v3.5 M268 117.2 h-3.5 M329.8 148 v3.5 M268 86.5 h-3.5 M360.7 148 v3.5 M268 55.8 h-3.5 M391.6 148 v3.5 M268 25.0 h-3.5 " stroke="#555" stroke-width="1" fill="none"/>
<text x="267.7" y="159.7" text-anchor="end" class="tk">10</text><text x="268.6" y="157.1" class="sup">0</text>
<text x="258.9" y="151.0" text-anchor="end" class="tk">10</text><text x="260.4" y="148.4" class="sup">0</text>
<text x="298.6" y="159.7" text-anchor="end" class="tk">10</text><text x="299.5" y="157.1" class="sup">1</text>
<text x="258.9" y="120.2" text-anchor="end" class="tk">10</text><text x="260.4" y="117.7" class="sup">1</text>
<text x="329.5" y="159.7" text-anchor="end" class="tk">10</text><text x="330.4" y="157.1" class="sup">2</text>
<text x="258.9" y="89.5" text-anchor="end" class="tk">10</text><text x="260.4" y="86.9" class="sup">2</text>
<text x="360.4" y="159.7" text-anchor="end" class="tk">10</text><text x="361.3" y="157.1" class="sup">3</text>
<text x="258.9" y="58.8" text-anchor="end" class="tk">10</text><text x="260.4" y="56.1" class="sup">3</text>
<text x="391.3" y="159.7" text-anchor="end" class="tk">10</text><text x="392.2" y="157.1" class="sup">4</text>
<text x="258.9" y="28.0" text-anchor="end" class="tk">10</text><text x="260.4" y="25.4" class="sup">4</text>
<text x="329.8" y="167.3" text-anchor="middle" class="ax">FITC Log Comp</text>
<text transform="translate(246.8,86.4) rotate(-90)" text-anchor="middle" class="ax" style="font-size:8.80px" textLength="101" lengthAdjust="spacingAndGlyphs">PE-Texas Red Log Comp</text>
<text x="269.5" y="34.0" class="rl">R6</text>
<text x="330.7" y="34.0" class="rl">R7</text>
<text x="283.0" y="136.5" class="rl">R8</text>
<text x="350.2" y="136.5" class="rl">R9</text>
<text x="390.9" y="41.0" text-anchor="end" class="pct">4.6%</text>
<g shape-rendering="crispEdges" filter="url(#bl)"><path d="M463 28.5h1m112 3h1m-94 1h1m4 1h1m51 2h1m3 0h1m12 1h1m-48 1h1m-5 6h1m72 0h1m-79 1h1m11 3h1m-17 1h1m24 0h1m-39 1h1m14 0h1m22 0h1m34 0h1m-74 1h1m17 0h1m6 0h1m2 0h1m18 0h1m47 0h1m-77 1h1m5 0h1m-44 1h1m22 0h1m20 0h1m3 0h1m2 0h1m4 0h1m10 0h1m22 0h1m-59 1h1m2 0h2m3 0h3m4 0h2m2 0h1m5 0h1m1 0h3m5 0h1m4 0h1m4 0h1m11 0h1m3 0h2m-62 1h1m2 0h1m2 0h2m3 0h2m2 0h1m1 0h2m1 0h1m1 0h1m13 0h1m1 0h1m5 0h1m2 0h1m19 0h1m-74 1h1m4 0h2m4 0h2m1 0h1m1 0h1m11 0h1m7 0h2m3 0h1m12 0h1m3 0h1m2 0h1m3 0h1m8 0h1m-84 1h1m6 0h2m1 0h1m3 0h3m26 0h1m2 0h3m1 0h1m3 0h3m1 0h1m5 0h1m4 0h1m11 0h1m1 0h1m-80 1h4m2 0h1m38 0h3m1 0h1m6 0h2m1 0h1m1 0h2m1 0h1m2 0h2m1 0h1m15 0h1m-94 1h2m4 0h1m2 0h2m2 0h2m40 0h1m1 0h1m2 0h1m13 0h3m3 0h1m2 0h1m-90 1h1m4 0h1m2 0h2m1 0h1m3 0h2m52 0h1m14 0h3m-95 1h1m12 0h2m4 0h3m2 0h2m68 0h1m1 0h1m2 0h1m1 0h1m-89 1h1m2 0h1m77 0h2m2 0h2m-94 1h1m9 0h1m4 0h1m73 0h1m1 0h1m2 0h1m-90 1h1m5 0h1m1 0h2m75 0h1m6 0h1m-90 1h1m4 0h2m75 0h3m1 0h3m2 0h1m-92 1h1m81 0h1m1 0h2m2 0h1m1 0h1m-93 1h1m82 0h3m-90 1h1m7 0h1m75 0h2m3 0h1m3 0h1m-90 1h1m1 0h6m72 0h1m1 0h1m3 0h3m-96 1h2m7 0h4m67 0h1m4 0h1m-80 1h2m7 0h1m64 0h2m4 0h1m1 0h1m-90 1h1m1 0h1m3 0h2m3 0h3m2 0h2m55 0h1m2 0h5m2 0h1m3 0h1m3 0h1m-82 1h1m3 0h3m1 0h1m50 0h1m1 0h2m4 0h1m5 0h1m7 0h1m13 0h1m-95 1h1m1 0h2m5 0h1m42 0h2m1 0h1m1 0h2m4 0h1m5 0h3m7 0h1m-79 1h1m6 0h3m39 0h2m5 0h1m2 0h2m2 0h1m-67 1h1m2 0h1m5 0h1m38 0h1m3 0h1m5 0h1m4 0h2m11 0h1m-78 1h1m7 0h1m2 0h2m30 0h2m4 0h2m1 0h1m1 0h2m2 0h1m1 0h2m3 0h1m-72 1h1m2 0h1m8 0h1m4 0h1m1 0h3m27 0h1m3 0h2m1 0h2m1 0h2m3 0h1m3 0h1m-77 1h2m11 0h1m7 0h2m4 0h1m1 0h1m21 0h1m1 0h1m1 0h5m1 0h2m1 0h1m3 0h2m3 0h1m6 0h1m3 0h1m2 0h1m23 0h1m-112 1h1m20 0h1m1 0h1m3 0h2m1 0h3m18 0h2m4 0h1m1 0h1m1 0h2m11 0h1m-65 1h1m13 0h1m6 0h3m17 0h1m1 0h2m1 0h3m5 0h1m1 0h1m1 0h1m1 0h3m-69 1h1m12 0h1m9 0h4m3 0h1m13 0h1m2 0h1m1 0h3m1 0h2m1 0h2m7 0h1m2 0h1m1 0h1m1 0h1m2 0h1m-60 1h2m7 0h1m4 0h1m14 0h4m6 0h2m3 0h1m1 0h1m3 0h1m8 0h1m4 0h1m5 0h1m-78 1h1m3 0h1m2 0h1m6 0h1m2 0h1m1 0h4m12 0h1m13 0h1m5 0h1m1 0h2m-62 1h1m15 0h1m2 0h1m3 0h1m10 0h1m1 0h1m4 0h1m1 0h1m1 0h4m2 0h1m1 0h1m1 0h4m2 0h1m5 0h1m-56 1h3m3 0h1m1 0h3m1 0h1m9 0h1m1 0h1m1 0h1m1 0h2m1 0h1m1 0h2m2 0h2m1 0h1m1 0h1m11 0h1m1 0h1m10 0h1m-76 1h1m14 0h1m4 0h2m9 0h1m1 0h1m7 0h1m1 0h1m3 0h1m3 0h2m2 0h1m1 0h1m2 0h1m8 0h1m18 0h1m-87 1h1m5 0h1m2 0h2m5 0h2m10 0h1m2 0h3m1 0h1m1 0h1m1 0h2m1 0h1m2 0h1m1 0h2m2 0h1m2 0h1m5 0h1m5 0h1m-56 1h2m3 0h3m11 0h1m1 0h2m2 0h2m1 0h1m8 0h2m1 0h1m1 0h2m4 0h1m-68 1h1m21 0h1m2 0h1m2 0h1m8 0h6m6 0h2m2 0h2m1 0h1m1 0h2m-50 1h1m5 0h1m2 0h2m1 0h1m1 0h1m14 0h2m1 0h2m2 0h1m2 0h1m3 0h1m2 0h1m7 0h1m-46 1h1m2 0h2m16 0h2m1 0h1m1 0h1m2 0h1m2 0h1m2 0h2m2 0h1m6 0h2m41 0h1m-87 1h1m25 0h1m1 0h2m4 0h1m2 0h1m-48 1h1m4 0h1m3 0h1m16 0h1m1 0h1m5 0h3m1 0h1m1 0h1m4 0h1m1 0h1m2 0h1m-44 1h1m1 0h1m17 0h1m5 0h1m3 0h2m1 0h1m1 0h3m1 0h1m4 0h1m7 0h1m-56 1h1m20 0h1m1 0h1m1 0h1m3 0h1m4 0h1m1 0h1m6 0h1m14 0h1m-59 1h1m1 0h1m3 0h1m15 0h1m3 0h1m1 0h1m4 0h1m9 0h2m12 0h1m1 0h1m-66 1h1m6 0h4m1 0h1m16 0h1m2 0h1m4 0h1m1 0h1m5 0h1m4 0h1m8 0h2m-76 1h1m6 0h1m17 0h1m1 0h1m19 0h1m5 0h1m2 0h4m2 0h1m3 0h1m-49 1h1m5 0h2m17 0h1m1 0h1m2 0h1m1 0h1m1 0h1m1 0h1m1 0h2m4 0h1m2 0h2m1 0h3m-74 1h1m20 0h1m1 0h3m20 0h1m1 0h1m1 0h1m2 0h1m1 0h1m1 0h1m1 0h2m2 0h1m6 0h1m1 0h1m-65 1h1m13 0h1m2 0h1m3 0h1m1 0h1m17 0h1m2 0h3m5 0h3m2 0h1m1 0h4m5 0h1m34 0h1m-113 1h1m23 0h2m3 0h2m1 0h1m15 0h1m3 0h2m3 0h2m4 0h1m2 0h1m4 0h2m-64 1h1m14 0h1m2 0h1m1 0h1m18 0h1m2 0h1m3 0h1m3 0h2m1 0h1m1 0h1m7 0h2m4 0h1m-60 1h1m1 0h1m6 0h1m23 0h2m1 0h2m1 0h2m2 0h1m1 0h3m1 0h1m2 0h1m1 0h1m-58 1h1m5 0h1m4 0h1m22 0h4m6 0h1m2 0h1m1 0h1m2 0h2m1 0h1m3 0h1m-72 1h1m13 0h1m5 0h1m2 0h1m24 0h1m2 0h1m1 0h1m1 0h2m1 0h2m1 0h1m2 0h1m8 0h1m-66 1h1m13 0h2m23 0h1m1 0h1m1 0h2m2 0h1m1 0h1m9 0h1m1 0h1m6 0h1m-81 1h1m13 0h1m3 0h1m5 0h1m1 0h2m24 0h2m1 0h1m5 0h2m1 0h1m2 0h1m1 0h1m-65 1h1m6 0h1m7 0h2m28 0h1m1 0h1m2 0h2m3 0h1m3 0h2m1 0h1m-71 1h1m4 0h1m16 0h1m1 0h1m2 0h2m24 0h1m2 0h1m1 0h1m3 0h1m2 0h1m2 0h1m1 0h1m23 0h1m-90 1h1m3 0h1m7 0h1m7 0h1m27 0h4m1 0h1m2 0h2m2 0h1m1 0h4m3 0h1m7 0h1m12 0h1m-95 1h1m5 0h1m4 0h1m10 0h1m2 0h1m27 0h1m2 0h2m3 0h1m4 0h2m1 0h1m2 0h1m-65 1h1m5 0h1m6 0h1m2 0h1m28 0h3m1 0h1m2 0h3m4 0h1m1 0h1m-71 1h1m6 0h1m7 0h3m2 0h1m1 0h1m32 0h5m2 0h6m2 0h2m1 0h2m1 0h1m-75 1h2m4 0h1m4 0h1m1 0h1m2 0h2m1 0h4m28 0h2m3 0h3m1 0h1m1 0h3m7 0h2m1 0h2m13 0h1m-84 1h2m2 0h1m1 0h1m4 0h1m2 0h3m27 0h3m4 0h1m3 0h2m-66 1h2m8 0h1m6 0h1m1 0h1m1 0h2m1 0h1m28 0h2m3 0h1m1 0h1m19 0h1m-81 1h1m1 0h1m3 0h1m4 0h1m3 0h1m5 0h1m31 0h1m1 0h1m2 0h3m2 0h2m6 0h1m2 0h2m-70 1h1m1 0h1m5 0h1m3 0h2m32 0h1m1 0h1m1 0h1m1 0h1m3 0h5m3 0h1m2 0h1m-68 1h2m4 0h2m6 0h3m1 0h1m27 0h1m3 0h1m1 0h2m3 0h4m3 0h1m7 0h1m-79 1h1m4 0h1m8 0h1m2 0h2m3 0h1m29 0h3m4 0h2m2 0h1m4 0h1m-69 1h1m5 0h2m3 0h1m1 0h3m3 0h1m38 0h3m2 0h1m3 0h1m1 0h4m-73 1h2m9 0h1m1 0h3m1 0h3m32 0h2m1 0h4m5 0h1m13 0h1m-79 1h1m1 0h2m3 0h1m1 0h2m1 0h1m7 0h1m3 0h1m29 0h2m4 0h1m8 0h1m-70 1h1m4 0h1m3 0h2m2 0h2m1 0h3m1 0h1m31 0h1m1 0h2m3 0h1m2 0h1m3 0h1m-67 1h1m2 0h4m3 0h4m1 0h1m1 0h3m4 0h1m28 0h2m2 0h1m9 0h1m4 0h1m-72 1h1m1 0h1m3 0h1m8 0h2m2 0h1m3 0h1m27 0h1m2 0h1m1 0h2m1 0h1m3 0h1m1 0h1m-67 1h1m1 0h1m1 0h3m4 0h3m6 0h1m3 0h1m27 0h2m7 0h2m-59 1h1m6 0h2m1 0h2m1 0h6m1 0h1m27 0h1m8 0h1m-62 1h1m6 0h3m1 0h1m12 0h1m26 0h1m3 0h4m-52 1h3m5 0h1m1 0h2m1 0h6m24 0h1m14 0h1m11 0h1m-73 1h2m3 0h1m4 0h1m1 0h1m1 0h1m2 0h1m26 0h1m2 0h1m1 0h1m6 0h1m2 0h2m3 0h1m-70 1h1m8 0h1m3 0h1m2 0h1m1 0h1m2 0h2m1 0h2m24 0h1m1 0h1m5 0h1m2 0h1m1 0h2m-65 1h1m2 0h3m4 0h1m1 0h1m8 0h1m2 0h1m28 0h1m2 0h1m6 0h1m2 0h1m20 0h1m-88 1h1m2 0h1m5 0h1m3 0h1m1 0h2m31 0h2m2 0h3m3 0h1m4 0h1m26 0h1m-89 1h1m3 0h1m1 0h1m2 0h4m1 0h1m30 0h3m3 0h1m10 0h1m2 0h1m-68 1h1m1 0h1m2 0h1m1 0h2m2 0h1m2 0h1m32 0h1m1 0h2m11 0h1m56 0h1m-120 1h2m3 0h2m1 0h1m38 0h1m2 0h1m30 0h1m-82 1h1m3 0h3m1 0h1m38 0h2m5 0h1m1 0h1m8 0h1m30 0h1m-51 1h1m2 0h1m4 0h1m2 0h1m-53 1h2m39 0h2m8 0h1m2 0h2m-57 1h1m1 0h1m41 0h2m-2 1h2m2 0h2m6 0h1m-14 1h1m9 0h1m3 0h1m3 0h1m3 0h1m-66 1h1m42 0h1m-44 1h1m1 0h3m36 0h8m6 0h1" stroke="rgb(222, 30, 55)" stroke-width="1" fill="none"/><path d="M514 55.5h2m1 0h1m1 0h2m1 0h2m-22 1h1m5 0h5m3 0h3m1 0h7m-28 1h1m1 0h3m1 0h1m2 0h13m3 0h2m1 0h2m-32 1h1m1 0h3m1 0h4m1 0h1m2 0h3m1 0h13m1 0h1m1 0h2m1 0h1m13 0h1m2 0h4m-61 1h1m2 0h6m1 0h6m10 0h7m1 0h4m3 0h1m1 0h1m2 0h2m1 0h1m4 0h3m1 0h6m-63 1h13m1 0h1m14 0h4m1 0h2m1 0h5m3 0h4m2 0h4m1 0h4m1 0h3m-67 1h6m1 0h1m1 0h1m2 0h2m20 0h9m2 0h4m3 0h3m1 0h4m1 0h4m2 0h1m-70 1h1m1 0h4m1 0h2m28 0h9m1 0h15m2 0h3m1 0h3m-73 1h2m1 0h1m1 0h1m1 0h4m28 0h1m1 0h11m1 0h9m1 0h3m1 0h6m-72 1h2m1 0h2m2 0h2m32 0h9m1 0h4m1 0h4m1 0h1m1 0h6m1 0h1m1 0h1m-73 1h9m30 0h21m1 0h5m2 0h2m2 0h2m-76 1h10m30 0h1m1 0h6m2 0h9m2 0h3m2 0h2m1 0h5m-73 1h3m1 0h6m29 0h25m2 0h2m1 0h1m-70 1h3m1 0h4m1 0h1m29 0h7m1 0h4m1 0h9m1 0h1m2 0h3m-69 1h1m1 0h1m1 0h8m27 0h7m1 0h3m2 0h3m1 0h4m1 0h1m2 0h1m-62 1h4m1 0h2m1 0h2m24 0h1m1 0h5m2 0h5m1 0h6m1 0h1m-58 1h2m2 0h3m1 0h6m19 0h2m1 0h2m1 0h5m4 0h2m1 0h1m1 0h2m-53 1h3m1 0h4m1 0h3m1 0h3m7 0h3m1 0h4m1 0h2m1 0h3m1 0h2m1 0h6m-47 1h2m1 0h1m1 0h4m1 0h1m2 0h3m1 0h6m2 0h2m2 0h4m2 0h1m1 0h1m2 0h1m-39 1h7m1 0h11m1 0h3m1 0h9m1 0h4m-37 1h1m2 0h7m2 0h3m1 0h1m1 0h4m2 0h2m1 0h1m1 0h1m1 0h1m2 0h1m-35 1h3m2 0h3m1 0h1m2 0h2m1 0h8m1 0h2m3 0h1m2 0h1m-32 1h3m2 0h1m1 0h1m1 0h1m1 0h1m1 0h7m1 0h1m-20 1h3m1 0h8m1 0h1m1 0h1m1 0h1m-18 1h1m1 0h1m1 0h8m1 0h3m1 0h1m-15 1h1m1 0h1m1 0h6m1 0h1m-13 1h3m1 0h2m1 0h3m1 0h1m-12 1h12m-9 1h1m1 0h1m2 0h2m-9 1h1m3 0h2m-5 1h4m1 0h2m-7 1h1m2 0h2m1 0h1m-7 1h2m1 0h4m-8 1h1m1 0h2m1 0h5m-11 1h1m2 0h1m1 0h1m2 0h2m-12 1h5m2 0h3m-10 1h1m1 0h1m1 0h4m1 0h3m-13 1h1m3 0h1m1 0h8m-14 1h1m1 0h6m1 0h3m1 0h1m-15 1h3m1 0h2m1 0h6m1 0h1m-13 1h6m1 0h5m-13 1h3m1 0h1m2 0h2m1 0h3m-14 1h1m1 0h7m1 0h3m1 0h1m-14 1h7m1 0h2m-10 1h6m1 0h2m1 0h1m1 0h1m-11 1h6m1 0h5m-14 1h1m1 0h6m1 0h4m1 0h1m-15 1h5m1 0h5m1 0h3m-16 1h3m2 0h6m1 0h2m1 0h1m-18 1h1m2 0h1m1 0h1m1 0h8m2 0h2m-20 1h1m2 0h1m1 0h11m1 0h1m1 0h1m-20 1h6m1 0h6m1 0h1m2 0h2m1 0h1m-20 1h2m2 0h10m1 0h5m-22 1h1m1 0h10m1 0h3m2 0h1m2 0h1m-23 1h2m1 0h17m2 0h1m-23 1h1m2 0h2m2 0h4m6 0h3m1 0h1m-23 1h2m1 0h5m1 0h1m1 0h1m6 0h3m1 0h1m-25 1h1m1 0h5m1 0h4m1 0h1m6 0h6m6 0h1m-34 1h3m1 0h8m10 0h4m-26 1h9m11 0h6m1 0h1m-26 1h3m1 0h3m10 0h6m1 0h1m-26 1h3m1 0h4m11 0h3m1 0h2m10 0h2m-39 1h1m1 0h3m2 0h3m10 0h1m1 0h3m1 0h1m10 0h2m-38 1h1m1 0h9m8 0h4m-23 1h3m1 0h7m9 0h5m-25 1h2m1 0h2m1 0h5m7 0h2m1 0h1m2 0h1m-26 1h1m3 0h2m1 0h3m10 0h2m1 0h2m1 0h1m-31 1h5m3 0h1m1 0h6m9 0h4m1 0h1m-32 1h3m2 0h1m1 0h10m9 0h1m1 0h3m-28 1h1m1 0h2m1 0h1m1 0h5m9 0h2m1 0h6m-32 1h1m2 0h2m2 0h4m2 0h1m8 0h7m-25 1h2m1 0h2m2 0h4m6 0h9m-25 1h3m1 0h6m5 0h5m4 0h2m-26 1h8m1 0h5m1 0h6m1 0h3m-25 1h3m3 0h4m3 0h6m1 0h5m-26 1h3m1 0h7m1 0h1m1 0h6m2 0h1m1 0h1m-24 1h1m2 0h3m2 0h7m1 0h5m1 0h2m-23 1h7m1 0h10m1 0h2m-22 1h3m1 0h7m1 0h1m1 0h3m2 0h1m1 0h1m-30 1h1m1 0h1m2 0h1m2 0h1m1 0h3m1 0h1m1 0h6m1 0h3m1 0h1m1 0h2m-32 1h2m1 0h3m3 0h2m1 0h4m1 0h10m1 0h1m1 0h1m-31 1h2m1 0h1m1 0h2m1 0h8m1 0h2m1 0h7m1 0h2m-44 1h1m9 0h1m1 0h3m2 0h2m1 0h1m1 0h6m1 0h7m1 0h1m1 0h2m1 0h2m-44 1h1m6 0h2m1 0h2m2 0h7m1 0h6m1 0h2m1 0h3m1 0h2m1 0h3m-43 1h1m6 0h2m1 0h1m1 0h2m2 0h2m1 0h10m1 0h4m1 0h3m1 0h3m-44 1h2m7 0h8m1 0h3m1 0h4m1 0h3m1 0h1m1 0h11m-44 1h1m2 0h1m4 0h16m1 0h14m4 0h1m1 0h1m-46 1h2m6 0h3m1 0h3m1 0h2m1 0h3m1 0h2m1 0h11m1 0h8m-46 1h2m1 0h1m2 0h3m2 0h1m2 0h3m1 0h3m1 0h4m8 0h11m1 0h1m-47 1h1m1 0h1m3 0h1m4 0h4m3 0h8m1 0h2m5 0h3m1 0h1m1 0h4m1 0h1m-46 1h3m3 0h5m1 0h2m1 0h8m2 0h2m2 0h5m1 0h4m1 0h1m1 0h2m1 0h1m-46 1h1m1 0h2m5 0h36" stroke="rgb(228, 34, 42)" stroke-width="1" fill="none"/><path d="M514 58.5h1m-5 1h10m-12 1h1m1 0h14m-24 1h1m1 0h1m3 0h1m1 0h18m-27 1h7m1 0h20m-28 1h13m1 0h11m1 0h2m-29 1h14m1 0h3m1 0h10m1 0h2m-32 1h14m2 0h2m1 0h11m-30 1h28m-27 1h28m-29 1h29m-28 1h2m1 0h24m-26 1h24m-21 1h14m3 0h2m-14 1h6m-12 38h1m1 0h4m-8 1h1m1 0h6m-8 1h1m1 0h6m-9 1h10m-13 1h2m1 0h8m-11 1h1m1 0h8m-10 1h11m-9 1h7m-7 1h5m1 0h2m-8 1h9m-9 1h7m-9 1h10m-8 1h9m-9 1h8m-10 1h9m-9 1h8m-7 1h2m1 0h3m-6 1h5m-5 2h2m-2 1h1m-11 13h1m1 0h6m-5 1h4" stroke="rgb(234, 42, 36)" stroke-width="1" fill="none"/><path d="M512 64.5h1m3 0h1m-5 1h2m2 0h1" stroke="rgb(240, 105, 30)" stroke-width="1" fill="none"/></g>
<rect x="461.2" y="24.5" width="123.3" height="122.5" fill="none" stroke="#6a6a6a" stroke-width="1.3"/>
<path d="M512.7 24.5 V147 M461.2 89.9 H584.5" stroke="#505050" stroke-width="1.2" fill="none"/>
<rect x="510.2" y="86.9" width="3.2" height="3.2" fill="#000"/>
<rect x="461.2" y="24.5" width="2.2" height="2.2" fill="#000"/>
<path d="M461.2 147 v3.5 M461.2 147.0 h-3.5 M492.0 147 v3.5 M461.2 116.4 h-3.5 M522.9 147 v3.5 M461.2 85.8 h-3.5 M553.7 147 v3.5 M461.2 55.1 h-3.5 M584.5 147 v3.5 M461.2 24.5 h-3.5 " stroke="#555" stroke-width="1" fill="none"/>
<text x="460.9" y="158.7" text-anchor="end" class="tk">10</text><text x="461.8" y="156.1" class="sup">0</text>
<text x="452.1" y="150.0" text-anchor="end" class="tk">10</text><text x="453.6" y="147.4" class="sup">0</text>
<text x="491.7" y="158.7" text-anchor="end" class="tk">10</text><text x="492.6" y="156.1" class="sup">1</text>
<text x="452.1" y="119.4" text-anchor="end" class="tk">10</text><text x="453.6" y="116.8" class="sup">1</text>
<text x="522.6" y="158.7" text-anchor="end" class="tk">10</text><text x="523.5" y="156.1" class="sup">2</text>
<text x="452.1" y="88.8" text-anchor="end" class="tk">10</text><text x="453.6" y="86.2" class="sup">2</text>
<text x="553.4" y="158.7" text-anchor="end" class="tk">10</text><text x="554.3" y="156.1" class="sup">3</text>
<text x="452.1" y="58.1" text-anchor="end" class="tk">10</text><text x="453.6" y="55.5" class="sup">3</text>
<text x="584.2" y="158.7" text-anchor="end" class="tk">10</text><text x="585.1" y="156.1" class="sup">4</text>
<text x="452.1" y="27.5" text-anchor="end" class="tk">10</text><text x="453.6" y="24.9" class="sup">4</text>
<text x="522.9" y="166.3" text-anchor="middle" class="ax">FITC Log Comp</text>
<text transform="translate(440.0,89.3) rotate(-90)" text-anchor="middle" class="ax" style="font-size:8.28px" textLength="95" lengthAdjust="spacingAndGlyphs">PE-Texas Red Log Comp</text>
<text x="462.7" y="33.5" class="rl">R6</text>
<text x="525.2" y="33.5" class="rl">R7</text>
<text x="476.2" y="135.5" class="rl">R8</text>
<text x="544.7" y="135.5" class="rl">R9</text>
<text x="583.8" y="40.0" text-anchor="end" class="pct">14.9%</text>
<g shape-rendering="crispEdges" filter="url(#bl)"><path d="M732 35.5h1m-85 2h1m78 6h1m12 4h1m-36 1h1m32 0h1m-23 1h1m31 0h1m-63 1h1m77 0h1m-63 1h1m4 0h1m9 1h1m9 0h1m4 0h1m1 0h1m-32 1h1m5 0h1m7 0h1m1 0h1m1 0h2m4 0h1m5 0h2m14 0h1m-63 1h1m3 0h1m15 0h1m2 0h1m4 0h1m2 0h1m6 0h2m2 0h1m5 0h1m2 0h1m1 0h1m1 0h1m6 0h1m-69 1h1m5 0h2m9 0h1m6 0h1m2 0h1m3 0h5m5 0h2m4 0h1m1 0h2m1 0h3m2 0h2m2 0h1m6 0h1m-88 1h1m22 0h1m1 0h1m1 0h1m3 0h1m10 0h2m32 0h1m3 0h1m4 0h1m3 0h1m8 0h1m-88 1h1m3 0h1m4 0h1m6 0h1m4 0h1m1 0h1m1 0h1m1 0h1m1 0h1m40 0h2m4 0h2m-74 1h1m11 0h1m55 0h5m2 0h1m-76 1h1m1 0h1m12 0h1m3 0h1m49 0h2m1 0h1m-86 1h1m13 0h1m4 0h3m2 0h1m3 0h2m53 0h1m4 0h1m1 0h2m-82 1h1m6 0h1m3 0h1m7 0h1m54 0h1m1 0h3m1 0h1m-87 1h1m10 0h1m1 0h2m1 0h1m1 0h2m4 0h1m55 0h1m3 0h1m3 0h1m8 0h1m-95 1h1m2 0h1m4 0h1m1 0h2m1 0h3m1 0h1m2 0h1m57 0h1m4 0h1m10 0h1m-94 1h1m1 0h2m9 0h2m1 0h1m1 0h1m1 0h1m54 0h3m-92 1h1m5 0h1m15 0h1m1 0h2m2 0h1m1 0h1m1 0h1m54 0h1m1 0h2m1 0h1m1 0h1m5 0h1m-74 1h1m1 0h1m56 0h1m1 0h1m8 0h1m-83 1h1m3 0h5m1 0h1m1 0h1m57 0h1m1 0h1m-85 1h1m2 0h1m4 0h1m4 0h1m4 0h1m1 0h1m56 0h1m1 0h1m2 0h2m4 0h1m3 0h1m-93 1h1m6 0h1m3 0h1m4 0h2m2 0h1m1 0h1m55 0h2m1 0h1m-63 1h1m2 0h1m1 0h2m46 0h2m-75 1h1m14 0h2m2 0h1m1 0h1m3 0h2m43 0h1m5 0h1m1 0h1m-70 1h1m3 0h2m2 0h2m1 0h2m46 0h1m3 0h1m4 0h1m1 0h1m4 0h1m3 0h1m-75 1h2m1 0h1m3 0h2m2 0h2m39 0h1m3 0h1m2 0h1m-68 1h1m3 0h2m5 0h1m8 0h1m5 0h1m2 0h2m2 0h1m28 0h1m2 0h1m3 0h1m1 0h2m12 0h1m-80 1h1m5 0h1m2 0h1m1 0h2m1 0h4m4 0h1m1 0h6m15 0h2m3 0h1m1 0h3m1 0h1m4 0h2m4 0h1m4 0h1m-79 1h1m6 0h1m1 0h1m7 0h1m7 0h7m1 0h1m1 0h1m3 0h1m14 0h4m1 0h1m1 0h1m10 0h1m3 0h1m-99 1h1m26 0h2m5 0h2m2 0h1m1 0h1m3 0h1m1 0h1m2 0h1m7 0h1m8 0h5m1 0h1m1 0h1m1 0h2m1 0h2m1 0h1m4 0h1m5 0h1m-68 1h2m6 0h4m2 0h1m4 0h3m7 0h1m1 0h1m4 0h1m4 0h2m1 0h1m1 0h1m1 0h1m2 0h3m8 0h1m2 0h2m17 0h1m-81 1h1m1 0h1m2 0h2m3 0h1m1 0h2m2 0h2m3 0h2m4 0h2m3 0h1m1 0h2m2 0h4m4 0h1m6 0h1m19 0h1m-77 1h1m8 0h1m6 0h1m4 0h1m8 0h3m1 0h1m1 0h2m2 0h1m3 0h1m5 0h3m1 0h1m-46 1h2m9 0h1m1 0h2m2 0h1m1 0h1m2 0h2m3 0h1m4 0h1m1 0h1m5 0h1m8 0h1m-66 1h1m9 0h1m2 0h1m6 0h3m2 0h1m1 0h1m1 0h2m1 0h5m2 0h1m4 0h1m2 0h1m7 0h1m3 0h2m3 0h2m3 0h1m16 0h1m-81 1h1m3 0h1m8 0h3m4 0h2m1 0h1m8 0h1m2 0h2m2 0h2m2 0h3m1 0h2m1 0h2m1 0h1m2 0h1m7 0h1m-59 1h1m2 0h1m6 0h1m1 0h2m3 0h1m2 0h1m1 0h1m2 0h1m8 0h2m1 0h2m3 0h2m5 0h1m-60 1h1m2 0h1m3 0h2m12 0h1m8 0h2m1 0h1m1 0h3m6 0h3m3 0h1m1 0h2m11 0h1m-50 1h3m4 0h1m1 0h1m6 0h2m1 0h2m1 0h1m3 0h1m1 0h3m2 0h1m1 0h1m6 0h1m14 0h1m-72 1h1m7 0h1m2 0h1m2 0h1m1 0h4m5 0h2m1 0h1m3 0h1m1 0h1m1 0h2m1 0h1m18 0h1m1 0h1m4 0h1m-54 1h1m8 0h1m2 0h3m1 0h1m8 0h2m1 0h1m1 0h1m5 0h1m19 0h1m3 0h1m-91 1h1m15 0h1m14 0h1m4 0h1m4 0h6m3 0h1m5 0h1m2 0h1m2 0h2m8 0h1m4 0h1m17 0h1m-77 1h1m2 0h1m2 0h1m1 0h1m7 0h1m1 0h2m10 0h1m4 0h1m3 0h4m10 0h1m13 0h1m-83 1h1m3 0h1m27 0h3m1 0h1m7 0h1m5 0h1m1 0h1m2 0h2m1 0h1m11 0h1m-58 1h1m2 0h1m4 0h1m5 0h1m2 0h1m6 0h2m1 0h3m1 0h4m4 0h2m3 0h1m2 0h1m-56 1h1m8 0h1m6 0h1m4 0h6m3 0h7m1 0h2m1 0h2m2 0h2m2 0h1m1 0h1m7 0h1m10 0h1m-49 1h1m1 0h1m5 0h1m1 0h1m3 0h1m1 0h2m1 0h1m8 0h1m2 0h1m1 0h1m3 0h1m-60 1h1m9 0h1m4 0h1m2 0h1m3 0h2m7 0h2m6 0h1m4 0h2m4 0h3m1 0h1m1 0h2m10 0h1m-73 1h1m19 0h2m3 0h1m4 0h1m2 0h2m3 0h1m1 0h1m3 0h1m2 0h1m4 0h3m3 0h1m2 0h1m2 0h2m6 0h1m5 0h2m-66 1h1m9 0h2m1 0h1m4 0h2m1 0h2m2 0h2m2 0h1m1 0h1m1 0h1m2 0h1m3 0h1m1 0h1m3 0h1m6 0h1m8 0h1m-70 1h1m7 0h1m5 0h1m11 0h5m3 0h2m4 0h1m1 0h2m4 0h1m1 0h2m1 0h1m1 0h1m1 0h1m6 0h1m-72 1h1m19 0h1m4 0h1m3 0h1m1 0h2m1 0h2m1 0h1m2 0h2m6 0h2m2 0h1m1 0h1m3 0h1m3 0h1m-55 1h1m3 0h1m1 0h1m1 0h1m5 0h1m2 0h1m1 0h1m1 0h1m1 0h1m3 0h1m5 0h1m3 0h1m3 0h1m1 0h1m4 0h1m3 0h1m3 0h1m-48 1h2m6 0h1m1 0h3m3 0h1m10 0h2m4 0h1m2 0h1m1 0h1m2 0h1m1 0h1m2 0h1m2 0h1m1 0h1m1 0h1m-57 1h2m2 0h1m4 0h2m2 0h2m2 0h1m1 0h1m10 0h2m1 0h1m1 0h3m5 0h2m2 0h1m3 0h1m9 0h1m-67 1h1m6 0h1m7 0h1m1 0h4m16 0h2m3 0h1m4 0h1m9 0h1m2 0h1m-66 1h2m1 0h1m10 0h1m2 0h5m18 0h1m1 0h2m1 0h3m1 0h1m1 0h2m1 0h2m3 0h1m-54 1h1m5 0h1m1 0h2m3 0h1m19 0h2m3 0h1m6 0h1m2 0h1m1 0h3m11 0h2m-69 1h1m4 0h1m2 0h1m7 0h1m4 0h1m19 0h2m1 0h3m2 0h2m9 0h1m2 0h1m-61 1h1m6 0h1m5 0h1m1 0h2m20 0h2m3 0h1m4 0h1m3 0h1m11 0h1m-56 1h1m1 0h1m1 0h4m15 0h1m5 0h1m1 0h1m2 0h2m2 0h2m3 0h3m-42 1h1m1 0h1m18 0h1m1 0h1m1 0h1m8 0h2m3 0h1m1 0h1m6 0h2m-49 1h2m20 0h2m10 0h1m3 0h2m3 0h1m2 0h1m-73 1h1m14 0h1m5 0h2m3 0h1m21 0h2m10 0h1m3 0h2m6 0h1m-74 1h1m10 0h1m6 0h1m2 0h1m1 0h1m1 0h1m21 0h1m1 0h2m9 0h2m2 0h1m2 0h1m2 0h1m-75 1h1m21 0h1m7 0h1m31 0h2m1 0h1m1 0h1m2 0h2m3 0h3m6 0h1m-86 1h1m6 0h1m12 0h3m2 0h1m1 0h2m1 0h1m32 0h1m3 0h5m1 0h1m7 0h1m-66 1h1m9 0h1m2 0h2m34 0h1m4 0h1m1 0h1m1 0h4m-65 1h1m13 0h1m25 0h2m9 0h2m1 0h1m8 0h1m1 0h1m1 0h1m-60 1h1m3 0h2m26 0h2m9 0h3m1 0h1m1 0h1m1 0h1m1 0h2m-68 1h1m8 0h1m3 0h3m1 0h1m1 0h1m38 0h1m4 0h1m39 0h1m-112 1h1m21 0h1m1 0h4m37 0h1m4 0h3m-56 1h1m3 0h1m2 0h1m39 0h1m2 0h2m1 0h1m7 0h1m-76 1h1m8 0h1m5 0h1m41 0h1m2 0h3m4 0h1m8 0h1m-73 1h1m47 0h1m3 0h1m4 0h1m14 0h1m-61 1h1m5 0h1m30 0h1m1 0h3m1 0h1m1 0h1m3 0h1m2 0h1m-49 1h1m1 0h1m37 0h1m2 0h1m3 0h1m-47 1h1m1 0h1m26 0h1m1 0h3m4 0h1m1 0h1m1 0h2m2 0h1m-55 1h1m8 0h1m26 0h1m4 0h1m6 0h1m8 0h1m16 0h1m-85 1h1m6 0h1m1 0h1m5 0h1m1 0h2m26 0h1m1 0h1m1 0h1m1 0h3m2 0h3m5 0h1m-58 1h1m2 0h1m3 0h1m2 0h1m27 0h2m1 0h4m2 0h2m1 0h1m1 0h1m-61 1h1m9 0h2m1 0h1m3 0h1m29 0h1m5 0h1m2 0h1m2 0h3m-17 1h1m2 0h1m1 0h2m2 0h1m3 0h1m-55 1h2m1 0h1m38 0h1m2 0h1m1 0h1m3 0h1m7 0h1m2 0h1m3 0h1m-66 1h1m3 0h3m1 0h2m31 0h2m2 0h1m1 0h1m3 0h1m18 0h1m-71 1h1m1 0h1m1 0h2m1 0h2m32 0h2m2 0h2m3 0h1m1 0h2m-64 1h1m6 0h1m3 0h1m2 0h2m36 0h1m1 0h2m1 0h1m2 0h1m2 0h1m1 0h1m-69 1h1m3 0h1m3 0h1m2 0h2m1 0h2m2 0h1m36 0h1m7 0h2m1 0h1m14 0h1m-82 1h1m9 0h1m1 0h1m37 0h2m2 0h3m2 0h1m6 0h1m7 0h1m-75 1h1m5 0h3m2 0h1m1 0h2m35 0h2m1 0h2m2 0h1m6 0h1m1 0h1m1 0h1m-69 1h1m2 0h1m9 0h3m35 0h1m1 0h1m1 0h1m2 0h3m7 0h1m-59 1h2m1 0h3m35 0h1m5 0h1m10 0h1m-69 1h1m2 0h1m5 0h3m1 0h1m31 0h3m4 0h1m2 0h2m-57 1h1m1 0h1m3 0h1m1 0h1m1 0h3m31 0h2m-46 1h1m3 0h1m4 0h1m2 0h2m37 0h1m4 0h1m1 0h1m11 0h1m-67 1h1m4 0h1m30 0h1m1 0h3m8 0h1m-46 1h1m1 0h1m28 0h2m2 0h1m1 0h1m3 0h1m3 0h1m2 0h1m8 0h1m-66 1h1m4 0h2m1 0h1m3 0h1m33 0h2m1 0h1m6 0h1m6 0h1m-64 1h3m39 0h1m12 0h1m4 0h1m30 0h1m-92 1h1m4 0h2m31 0h2m1 0h1m1 0h1m2 0h1m18 0h1m-66 1h1m6 0h1m29 0h1m2 0h1m5 0h1m15 0h1m-63 1h1m1 0h2m1 0h4m26 0h5m1 0h3m2 0h1m1 0h3m2 0h1m5 0h1m15 0h1" stroke="rgb(222, 30, 55)" stroke-width="1" fill="none"/><path d="M718 55.5h1m-9 1h2m2 0h1m4 0h5m4 0h5m1 0h1m-30 1h1m3 0h4m2 0h6m1 0h5m1 0h1m1 0h2m1 0h1m2 0h3m-40 1h2m1 0h3m2 0h13m1 0h4m2 0h9m2 0h4m-45 1h1m2 0h1m1 0h3m1 0h3m1 0h2m9 0h7m1 0h8m1 0h5m1 0h1m-50 1h1m1 0h6m1 0h3m23 0h1m1 0h5m1 0h7m-51 1h1m1 0h10m26 0h14m1 0h1m-54 1h5m1 0h2m33 0h8m1 0h2m1 0h1m-55 1h7m34 0h3m2 0h4m1 0h3m-51 1h4m32 0h7m1 0h3m1 0h3m-51 1h4m32 0h6m2 0h2m1 0h2m-54 1h9m30 0h8m1 0h3m-54 1h2m1 0h2m3 0h2m1 0h1m28 0h3m1 0h2m1 0h1m3 0h1m-55 1h1m1 0h1m1 0h6m1 0h1m1 0h2m26 0h5m1 0h3m2 0h1m-49 1h1m1 0h5m1 0h3m20 0h3m1 0h7m1 0h3m-48 1h4m4 0h7m1 0h1m12 0h1m1 0h5m1 0h4m2 0h2m-45 1h4m3 0h1m1 0h1m2 0h3m1 0h5m1 0h2m4 0h5m1 0h1m3 0h1m1 0h1m1 0h1m-41 1h3m1 0h3m1 0h3m1 0h13m2 0h4m1 0h3m3 0h1m-41 1h1m1 0h2m1 0h2m2 0h1m2 0h1m4 0h1m1 0h1m1 0h3m1 0h1m1 0h5m1 0h1m2 0h3m-25 1h2m2 0h1m1 0h3m1 0h1m1 0h1m3 0h3m2 0h3m-33 1h2m9 0h5m1 0h3m2 0h2m-12 1h1m1 0h2m1 0h1m3 0h1m1 0h1m-14 1h1m1 0h2m-3 1h1m1 0h1m-2 1h1m-12 20h1m-1 1h2m-4 1h3m1 0h2m-6 1h2m1 0h1m1 0h1m-9 1h1m2 0h5m1 0h1m-11 1h2m2 0h6m-12 1h1m1 0h9m-11 1h2m1 0h4m1 0h3m-14 1h1m1 0h2m1 0h7m2 0h1m8 0h1m2 0h2m1 0h1m1 0h1m1 0h1m-35 1h2m1 0h5m1 0h1m2 0h3m9 0h2m8 0h1m-35 1h1m1 0h3m1 0h10m6 0h2m4 0h1m4 0h1m-35 1h2m1 0h3m1 0h10m6 0h6m2 0h1m2 0h1m-36 1h3m2 0h4m3 0h4m2 0h1m4 0h4m2 0h1m-30 1h1m1 0h6m6 0h3m1 0h1m4 0h1m2 0h3m-30 1h2m2 0h4m7 0h4m3 0h7m1 0h1m-29 1h1m1 0h2m9 0h5m5 0h4m-28 1h4m11 0h2m1 0h1m5 0h2m1 0h1m-31 1h7m11 0h5m2 0h1m1 0h1m2 0h3m-31 1h3m12 0h4m4 0h6m1 0h2m-34 1h1m2 0h1m13 0h3m1 0h1m2 0h2m1 0h1m1 0h3m1 0h2m-37 1h1m1 0h4m13 0h1m8 0h1m1 0h1m1 0h1m1 0h1m1 0h1m-38 1h1m1 0h5m13 0h3m1 0h3m1 0h1m2 0h5m-36 1h6m14 0h11m3 0h1m-35 1h3m1 0h2m14 0h1m1 0h1m2 0h1m1 0h1m-28 1h6m14 0h6m1 0h1m-28 1h1m2 0h3m14 0h4m2 0h1m4 0h3m-34 1h1m1 0h2m16 0h1m1 0h3m8 0h2m-35 1h2m1 0h1m15 0h6m8 0h4m-39 1h4m1 0h1m14 0h5m10 0h2m-37 1h1m1 0h1m1 0h2m14 0h4m1 0h1m-26 1h1m1 0h3m15 0h4m1 0h1m-29 1h4m1 0h2m15 0h4m1 0h1m-29 1h2m1 0h2m1 0h2m14 0h1m1 0h5m-30 1h1m1 0h2m19 0h3m2 0h2m-31 1h1m2 0h2m1 0h3m15 0h4m2 0h1m-34 1h1m1 0h2m1 0h7m14 0h5m1 0h2m-34 1h1m2 0h3m1 0h1m1 0h3m13 0h5m3 0h1m-36 1h3m2 0h9m11 0h4m1 0h3m-34 1h1m2 0h1m1 0h9m11 0h2m1 0h3m2 0h1m-34 1h2m2 0h1m1 0h4m1 0h4m8 0h5m-27 1h4m3 0h12m1 0h3m3 0h1m1 0h1m-30 1h1m2 0h2m1 0h6m1 0h14m1 0h1m-31 1h1m2 0h1m1 0h4m2 0h2m2 0h7m2 0h6m-29 1h2m2 0h2m1 0h4m1 0h5m1 0h1m1 0h2m1 0h1m1 0h2m-29 1h1m1 0h3m1 0h5m1 0h3m1 0h4m1 0h3m-24 1h2m1 0h2m1 0h1m3 0h1m5 0h5m1 0h3m-25 1h1m1 0h5m2 0h5m2 0h1m1 0h7m-30 1h1m1 0h1m1 0h1m1 0h3m2 0h1m2 0h5m1 0h2m1 0h1m1 0h2m-27 1h2m1 0h11m1 0h1m1 0h3m1 0h4m1 0h1m1 0h2m-30 1h2m1 0h2m1 0h2m2 0h1m1 0h6m1 0h2m1 0h5m-25 1h2m1 0h22" stroke="rgb(228, 34, 42)" stroke-width="1" fill="none"/><path d="M712 59.5h9m-14 1h23m-24 1h26m-28 1h30m-34 1h33m-33 1h32m-32 1h6m7 0h4m1 0h14m-32 1h30m-30 1h28m-28 1h25m-22 1h14m1 0h2m-15 1h6m1 0h4m-5 1h1m1 0h1m-26 40h3m-4 1h6m-7 1h7m-9 1h9m-10 1h11m-11 1h2m1 0h8m-13 1h12m-13 1h13m-13 1h13m-13 1h13m-14 1h14m-14 1h14m-14 1h14m-14 1h8m1 0h4m-14 1h13m1 0h1m-16 1h15m-15 1h14m-14 1h14m-15 1h14m-15 1h2m1 0h11m-14 1h14m-14 1h5m1 0h8m-15 1h5m1 0h9m-14 1h13m-14 1h13m-13 1h11m-12 1h1m1 0h9m-10 1h1m1 0h5" stroke="rgb(234, 42, 36)" stroke-width="1" fill="none"/><path d="M706 65.5h7" stroke="rgb(240, 105, 30)" stroke-width="1" fill="none"/></g>
<rect x="643.4" y="27" width="123.2" height="123.0" fill="none" stroke="#6a6a6a" stroke-width="1.3"/>
<path d="M694.7 27 V150 M643.4 92.3 H766.6" stroke="#505050" stroke-width="1.2" fill="none"/>
<rect x="692.2" y="89.3" width="3.2" height="3.2" fill="#000"/>
<rect x="643.4" y="27" width="2.2" height="2.2" fill="#000"/>
<path d="M643.4 150 v3.5 M643.4 150.0 h-3.5 M674.2 150 v3.5 M643.4 119.2 h-3.5 M705.0 150 v3.5 M643.4 88.5 h-3.5 M735.8 150 v3.5 M643.4 57.8 h-3.5 M766.6 150 v3.5 M643.4 27.0 h-3.5 " stroke="#555" stroke-width="1" fill="none"/>
<text x="643.1" y="161.7" text-anchor="end" class="tk">10</text><text x="644.0" y="159.1" class="sup">0</text>
<text x="634.3" y="153.0" text-anchor="end" class="tk">10</text><text x="635.8" y="150.4" class="sup">0</text>
<text x="673.9" y="161.7" text-anchor="end" class="tk">10</text><text x="674.8" y="159.1" class="sup">1</text>
<text x="634.3" y="122.2" text-anchor="end" class="tk">10</text><text x="635.8" y="119.7" class="sup">1</text>
<text x="704.7" y="161.7" text-anchor="end" class="tk">10</text><text x="705.6" y="159.1" class="sup">2</text>
<text x="634.3" y="91.5" text-anchor="end" class="tk">10</text><text x="635.8" y="88.9" class="sup">2</text>
<text x="735.5" y="161.7" text-anchor="end" class="tk">10</text><text x="736.4" y="159.1" class="sup">3</text>
<text x="634.3" y="60.8" text-anchor="end" class="tk">10</text><text x="635.8" y="58.1" class="sup">3</text>
<text x="766.3" y="161.7" text-anchor="end" class="tk">10</text><text x="767.2" y="159.1" class="sup">4</text>
<text x="634.3" y="30.0" text-anchor="end" class="tk">10</text><text x="635.8" y="27.4" class="sup">4</text>
<text x="705.0" y="169.3" text-anchor="middle" class="ax">FITC Log Comp</text>
<text transform="translate(622.2,86.3) rotate(-90)" text-anchor="middle" class="ax" style="font-size:8.37px" textLength="96" lengthAdjust="spacingAndGlyphs">PE-Texas Red Log Comp</text>
<text x="644.9" y="36.0" class="rl">R6</text>
<text x="707.2" y="36.0" class="rl">R7</text>
<text x="658.4" y="138.5" class="rl">R8</text>
<text x="726.7" y="138.5" class="rl">R9</text>
<text x="767.6" y="41.8" text-anchor="end" class="pct">29.6%</text>
<g shape-rendering="crispEdges" filter="url(#bl)"><path d="M151 199.5h1m-15 2h1m8 1h1m-22 1h1m3 1h1m8 0h1m3 0h1m5 0h1m-27 1h1m8 0h1m7 1h1m1 0h1m-11 1h1m2 0h3m3 0h1m2 0h1m-18 1h1m2 0h1m2 0h4m1 0h2m1 0h1m7 0h1m-42 1h1m6 0h1m12 0h3m2 0h1m1 0h2m2 0h1m3 0h1m1 0h1m1 0h1m1 0h1m4 0h1m-31 1h1m1 0h1m2 0h3m1 0h3m1 0h2m2 0h1m5 0h1m5 0h1m1 0h1m-34 1h2m2 0h2m2 0h1m2 0h2m1 0h2m1 0h1m1 0h1m3 0h2m5 0h1m-38 1h1m8 0h1m5 0h1m1 0h5m1 0h1m2 0h1m1 0h1m5 0h1m3 0h1m4 0h1m-42 1h1m6 0h2m1 0h2m1 0h3m2 0h5m1 0h1m1 0h1m2 0h2m8 0h1m-39 1h1m5 0h4m2 0h2m3 0h1m1 0h2m4 0h1m12 0h1m-30 1h1m2 0h1m2 0h1m4 0h2m1 0h1m5 0h1m10 0h1m-30 1h1m2 0h2m1 0h1m1 0h2m11 0h4m2 0h1m-29 1h1m2 0h1m2 0h3m5 0h1m3 0h1m2 0h1m2 0h1m2 0h1m-42 1h1m1 0h1m9 0h1m30 0h1m-33 1h2m11 0h1m4 0h1m3 0h1m2 0h1m3 0h2m4 0h1m-38 1h1m7 0h1m2 0h1m1 0h1m19 0h1m1 0h1m4 0h1m-41 1h1m9 0h1m1 0h2m2 0h1m1 0h1m1 0h1m4 0h1m3 0h3m3 0h1m4 0h1m-52 1h1m7 0h1m21 0h1m1 0h1m2 0h2m1 0h1m1 0h1m1 0h1m2 0h1m2 0h1m2 0h1m-32 1h1m4 0h1m7 0h1m4 0h1m4 0h2m2 0h2m4 0h1m-48 1h1m4 0h1m8 0h2m1 0h1m2 0h1m1 0h1m1 0h1m5 0h3m1 0h1m2 0h1m1 0h2m1 0h2m1 0h1m-53 1h1m16 0h1m2 0h1m16 0h1m2 0h1m1 0h1m1 0h1m1 0h1m2 0h1m7 0h1m-42 1h1m9 0h1m1 0h1m8 0h1m2 0h1m1 0h3m5 0h2m3 0h1m2 0h1m-39 1h1m1 0h1m1 0h2m12 0h1m4 0h2m12 0h1m-39 1h1m6 0h1m11 0h2m2 0h2m1 0h1m2 0h1m2 0h1m2 0h1m-33 1h1m19 0h2m3 0h2m0 1h2m3 0h1m-45 1h1m9 0h1m9 0h1m5 0h2m1 0h1m10 0h1m3 0h1m-41 1h1m22 0h1m-9 1h1m21 0h2m-41 1h1m41 0h1m-17 1h1m11 0h1m2 0h1m-14 1h1m13 0h3m3 0h1m-46 2h1m10 0h1m24 0h1m-31 1h1m4 0h1m3 0h1m11 0h1m-13 1h1m21 0h1m2 0h1m2 0h1m-33 1h1m28 0h1m1 0h2m-33 1h1m1 0h2m23 0h1m-33 1h1m6 0h1m1 0h1m22 0h2m-38 1h1m2 0h1m2 0h1m1 0h2m1 0h3m3 0h1m21 0h1m-43 1h1m1 0h1m1 0h1m1 0h1m3 0h2m1 0h1m1 0h1m21 0h2m-40 1h2m4 0h2m1 0h3m2 0h2m2 0h1m-15 1h2m1 0h1m1 0h1m2 0h2m1 0h1m2 0h1m1 0h1m10 0h1m3 0h1m-30 1h1m3 0h6m1 0h2m19 0h2m1 0h1m-43 1h1m6 0h5m1 0h1m1 0h1m1 0h1m22 0h1m1 0h1m-42 1h1m4 0h1m1 0h1m1 0h2m1 0h8m21 0h1m-44 1h1m4 0h1m1 0h13m1 0h1m18 0h2m4 0h1m-49 1h2m3 0h2m2 0h1m3 0h9m27 0h1m-50 1h1m1 0h1m4 0h1m1 0h3m1 0h8m2 0h1m26 0h1m-53 1h1m5 0h1m2 0h1m2 0h1m1 0h2m1 0h3m1 0h2m3 0h1m14 0h1m2 0h1m-54 1h1m15 0h1m3 0h7m1 0h4m18 0h1m2 0h1m-52 1h1m5 0h1m1 0h2m2 0h3m2 0h5m1 0h8m20 0h1m-50 1h1m2 0h1m2 0h1m1 0h2m1 0h1m2 0h14m1 0h1m21 0h1m-50 1h2m3 0h1m1 0h4m1 0h6m1 0h5m1 0h4m-33 1h1m9 0h2m1 0h1m1 0h1m1 0h7m1 0h4m21 0h1m-44 1h1m1 0h2m1 0h3m2 0h9m2 0h1m4 0h1m14 0h2m9 0h1m-64 1h1m11 0h1m1 0h1m1 0h14m1 0h3m-23 1h1m1 0h1m1 0h11m1 0h3m1 0h4m12 0h1m-41 1h5m2 0h11m1 0h5m3 0h1m9 0h1m10 0h1m-54 1h1m3 0h1m3 0h2m1 0h5m1 0h4m1 0h9m1 0h2m3 0h1m23 0h1m-61 1h1m2 0h3m3 0h1m1 0h1m1 0h1m1 0h12m1 0h1m3 0h1m-35 1h1m1 0h1m2 0h1m2 0h3m1 0h5m1 0h13m2 0h3m12 0h1m-43 1h1m1 0h11m1 0h8m1 0h1m1 0h1m23 0h1m-52 1h11m1 0h11m1 0h2m1 0h1m-30 1h1m2 0h1m1 0h8m1 0h1m1 0h9m1 0h1m1 0h2m16 0h2m10 0h1m-65 1h1m5 0h3m4 0h16m1 0h3m1 0h2m27 0h1m-58 1h1m2 0h8m2 0h17m3 0h1m20 0h1m-56 1h1m2 0h1m1 0h4m2 0h13m2 0h3m3 0h1m14 0h1m-58 1h1m11 0h1m1 0h1m1 0h23m1 0h1m6 0h1m-42 1h1m2 0h3m2 0h4m1 0h18m5 0h1m-33 1h2m1 0h1m1 0h7m1 0h20m12 0h1m2 0h1m-49 1h4m1 0h1m1 0h3m2 0h12m1 0h1m2 0h2m13 0h1m8 0h1m-56 1h1m3 0h2m1 0h1m2 0h16m1 0h2m2 0h1m-38 1h1m4 0h2m5 0h2m1 0h1m1 0h3m1 0h6m1 0h7m1 0h1m1 0h1m2 0h1m-33 1h1m1 0h4m1 0h8m1 0h5m1 0h1m1 0h1m2 0h2m17 0h1m9 0h1m-56 1h2m1 0h1m1 0h17m1 0h1m-26 1h2m1 0h1m2 0h1m1 0h6m1 0h6m1 0h2m1 0h3m2 0h1m1 0h1m-33 1h1m1 0h2m1 0h2m2 0h1m1 0h11m1 0h4m1 0h2m-35 1h3m1 0h1m4 0h1m2 0h2m1 0h10m1 0h2m1 0h1m4 0h1m1 0h2m-37 1h1m1 0h2m1 0h7m2 0h4m1 0h3m1 0h3m1 0h1m1 0h1m2 0h1m5 0h1m6 0h1m-43 1h2m2 0h5m2 0h4m1 0h2m1 0h1m1 0h2m7 0h2m1 0h1m-38 1h1m3 0h17m1 0h2m1 0h5m8 0h1m-40 1h3m2 0h1m1 0h1m1 0h9m2 0h3m2 0h3m5 0h1m-29 1h1m1 0h3m1 0h9m1 0h6m2 0h1m6 0h1m2 0h1m-36 1h1m1 0h1m1 0h2m1 0h1m2 0h1m1 0h1m1 0h8m2 0h1m1 0h1m-32 1h1m9 0h1m1 0h1m1 0h5m1 0h5m1 0h4m1 0h1m1 0h1m-36 1h1m4 0h1m2 0h1m1 0h1m1 0h1m2 0h11m2 0h1m10 0h1m-34 1h2m1 0h1m3 0h11m1 0h3m1 0h2m3 0h4m3 0h1m19 0h1m-59 1h1m3 0h3m4 0h3m1 0h3m1 0h3m1 0h3m4 0h3m-39 1h1m5 0h1m1 0h1m5 0h1m1 0h1m4 0h2m1 0h1m1 0h8m1 0h1m1 0h1m3 0h1m3 0h1m-39 1h2m4 0h1m1 0h6m1 0h6m1 0h2m1 0h6m4 0h1m-31 1h1m2 0h1m3 0h1m1 0h3m3 0h5m1 0h4m2 0h1m4 0h1m14 0h1m10 0h1m-65 1h1m1 0h1m1 0h9m2 0h4m1 0h4m1 0h1m1 0h6m1 0h2m3 0h1m-40 1h1m2 0h1m2 0h1m1 0h1m1 0h6m1 0h1m1 0h2m1 0h5m1 0h3m1 0h2m2 0h1m1 0h1m1 0h1m3 0h1m-56 1h1m2 0h2m2 0h1m5 0h1m3 0h1m1 0h9m1 0h4m1 0h2m1 0h1m1 0h2m4 0h2m2 0h1m-37 1h1m3 0h1m1 0h2m1 0h3m1 0h1m2 0h8m1 0h3m2 0h1m1 0h2m2 0h1m-47 1h1m7 0h1m1 0h1m1 0h1m1 0h1m2 0h3m1 0h1m1 0h1m1 0h3m1 0h1m2 0h2m1 0h8m1 0h1m3 0h1m-39 1h1m4 0h1m1 0h5m1 0h1m2 0h8m1 0h1m1 0h4m2 0h3m-39 1h1m1 0h1m1 0h1m1 0h1m2 0h2m3 0h2m2 0h1m2 0h7m4 0h3m3 0h1m-42 1h1m3 0h1m2 0h1m1 0h2m6 0h1m1 0h2m2 0h1m1 0h3m1 0h3m2 0h1m1 0h1m4 0h3m-50 1h1m6 0h2m2 0h1m1 0h1m3 0h4m1 0h6m1 0h3m1 0h4m3 0h3m1 0h3" stroke="rgb(228, 38, 48)" stroke-width="1" fill="none"/></g>
<rect x="64.3" y="183.5" width="123.7" height="123.3" fill="none" stroke="#6a6a6a" stroke-width="1.3"/>
<path d="M141.5 183.5 V306.8 M64.3 238.2 H188" stroke="#505050" stroke-width="1.2" fill="none"/>
<path d="M64.3 306.8 v3.5 M64.3 306.8 h-3.5 M95.2 306.8 v3.5 M64.3 276.0 h-3.5 M126.2 306.8 v3.5 M64.3 245.2 h-3.5 M157.1 306.8 v3.5 M64.3 214.3 h-3.5 M188.0 306.8 v3.5 M64.3 183.5 h-3.5 " stroke="#555" stroke-width="1" fill="none"/>
<text x="64.0" y="318.5" text-anchor="end" class="tk">10</text><text x="64.9" y="315.9" class="sup">0</text>
<text x="55.2" y="309.8" text-anchor="end" class="tk">10</text><text x="56.7" y="307.2" class="sup">0</text>
<text x="94.9" y="318.5" text-anchor="end" class="tk">10</text><text x="95.8" y="315.9" class="sup">1</text>
<text x="55.2" y="279.0" text-anchor="end" class="tk">10</text><text x="56.7" y="276.4" class="sup">1</text>
<text x="125.9" y="318.5" text-anchor="end" class="tk">10</text><text x="126.8" y="315.9" class="sup">2</text>
<text x="55.2" y="248.2" text-anchor="end" class="tk">10</text><text x="56.7" y="245.6" class="sup">2</text>
<text x="156.8" y="318.5" text-anchor="end" class="tk">10</text><text x="157.7" y="315.9" class="sup">3</text>
<text x="55.2" y="217.3" text-anchor="end" class="tk">10</text><text x="56.7" y="214.7" class="sup">3</text>
<text x="187.7" y="318.5" text-anchor="end" class="tk">10</text><text x="188.6" y="315.9" class="sup">4</text>
<text x="55.2" y="186.5" text-anchor="end" class="tk">10</text><text x="56.7" y="183.9" class="sup">4</text>
<text x="126.2" y="326.1" text-anchor="middle" class="ax">FITC Log Comp</text>
<text transform="translate(43.1,246.4) rotate(-90)" text-anchor="middle" class="ax" style="font-size:7.72px" textLength="47.5" lengthAdjust="spacingAndGlyphs">PE Log Comp</text>
<text x="66.1" y="192.5" class="rl">R2</text>
<text x="161.0" y="216.2" class="rl">R3</text>
<text x="84.6" y="292.3" class="rl">R4</text>
<text x="146.0" y="292.3" class="rl">R5</text>
<text x="186.5" y="201.0" text-anchor="end" class="pct">2.9%</text>
<g shape-rendering="crispEdges" filter="url(#bl)"><path d="M345 191.5h1m-5 6h1m-28 2h1m13 2h1m9 0h1m-2 1h1m0 2h1m-14 1h1m6 0h1m6 0h1m2 0h2m-22 1h1m7 0h2m1 0h1m2 0h1m1 0h2m1 0h3m17 0h1m-38 1h5m4 0h1m1 0h1m3 0h2m3 0h1m4 0h1m1 0h1m-28 1h1m7 0h1m1 0h1m2 0h2m1 0h1m2 0h1m-14 1h1m1 0h1m1 0h2m1 0h3m1 0h3m3 0h1m1 0h1m-27 1h1m2 0h1m2 0h1m4 0h1m3 0h1m1 0h1m1 0h1m3 0h1m-24 1h1m4 0h1m1 0h4m3 0h3m2 0h1m1 0h1m1 0h2m14 0h1m-31 1h4m3 0h1m11 0h2m23 0h1m-61 1h1m14 0h2m4 0h1m1 0h1m2 0h1m12 0h1m-37 1h1m7 0h1m5 0h1m4 0h2m1 0h1m5 0h1m1 0h1m7 0h1m2 0h1m-40 1h1m3 0h1m3 0h3m2 0h5m3 0h2m5 0h1m3 0h1m4 0h3m-35 1h1m1 0h2m3 0h1m7 0h2m3 0h1m3 0h2m1 0h1m1 0h1m4 0h1m8 0h1m-42 1h1m7 0h4m3 0h1m2 0h1m2 0h2m3 0h1m2 0h1m4 0h1m2 0h1m-38 1h1m1 0h3m4 0h1m4 0h1m1 0h1m3 0h2m2 0h3m2 0h2m-38 1h1m13 0h1m3 0h1m5 0h3m6 0h4m1 0h1m4 0h1m3 0h1m-51 1h1m6 0h1m6 0h1m3 0h1m7 0h1m4 0h2m1 0h1m2 0h2m3 0h1m6 0h1m-42 1h1m3 0h3m6 0h2m1 0h1m1 0h1m3 0h1m4 0h1m4 0h1m1 0h1m8 0h1m-38 1h1m9 0h1m11 0h4m4 0h1m-42 1h1m4 0h1m3 0h1m3 0h1m8 0h1m4 0h1m7 0h1m1 0h1m1 0h1m1 0h1m3 0h1m-50 1h1m7 0h1m1 0h1m8 0h1m5 0h1m1 0h1m3 0h5m2 0h1m7 0h1m-21 1h1m6 0h1m1 0h3m2 0h1m1 0h4m-34 1h1m7 0h1m6 0h1m3 0h1m1 0h1m4 0h1m2 0h4m5 0h1m-29 1h1m6 0h2m5 0h1m7 0h1m-27 1h1m1 0h1m17 0h1m2 0h1m2 0h1m-37 1h1m11 0h1m2 0h1m11 0h1m4 0h1m8 0h1m-13 1h1m1 0h1m6 0h1m5 0h1m-30 1h1m2 0h1m9 0h1m-26 1h1m21 0h1m10 0h1m2 0h1m3 0h1m2 0h1m-44 1h1m8 0h1m7 0h1m19 0h1m-30 1h1m11 1h1m1 0h1m7 0h1m9 0h1m-6 1h1m5 0h1m-28 1h1m20 0h1m13 0h1m-38 1h1m-10 1h1m9 0h2m3 0h1m18 0h1m1 0h2m-30 1h1m2 0h1m-17 1h1m8 0h1m3 0h1m1 0h1m1 0h1m8 0h1m7 0h1m4 0h2m2 0h1m-30 1h4m27 0h1m-44 1h1m10 0h1m1 0h1m1 0h2m-27 1h1m5 0h1m8 0h2m1 0h4m2 0h2m-12 1h2m4 0h1m1 0h4m13 0h1m2 0h1m4 0h2m-42 1h1m4 0h1m4 0h1m2 0h7m18 0h2m2 0h1m-42 1h2m1 0h1m4 0h1m1 0h5m1 0h1m1 0h1m12 0h1m6 0h1m4 0h1m-43 1h1m1 0h1m1 0h2m1 0h1m1 0h1m1 0h5m1 0h1m6 0h1m3 0h1m9 0h2m1 0h1m-47 1h1m3 0h1m5 0h5m1 0h5m17 0h1m5 0h1m-53 1h1m12 0h4m5 0h2m2 0h1m1 0h3m15 0h2m2 0h1m2 0h1m-47 1h1m1 0h1m1 0h1m4 0h1m2 0h1m1 0h3m1 0h5m1 0h1m8 0h1m11 0h1m-50 1h1m8 0h1m4 0h1m1 0h9m1 0h1m13 0h1m-43 1h1m1 0h1m11 0h2m2 0h2m1 0h4m1 0h4m-25 1h2m1 0h1m1 0h1m2 0h3m2 0h2m1 0h6m2 0h1m16 0h1m-46 1h1m2 0h1m1 0h3m1 0h1m1 0h1m1 0h1m1 0h11m1 0h1m18 0h1m2 0h1m-48 1h1m1 0h2m2 0h2m1 0h2m1 0h1m1 0h3m1 0h9m-31 1h1m3 0h1m2 0h5m2 0h2m1 0h6m1 0h4m9 0h1m10 0h2m-57 1h1m9 0h1m1 0h3m2 0h5m1 0h6m1 0h8m7 0h1m6 0h1m-50 1h1m7 0h1m1 0h1m2 0h2m2 0h15m1 0h2m5 0h1m-38 1h2m4 0h1m1 0h1m1 0h3m2 0h1m1 0h4m1 0h4m4 0h1m22 0h1m-51 1h1m1 0h1m1 0h1m2 0h2m1 0h1m1 0h2m1 0h1m1 0h4m1 0h2m2 0h2m8 0h1m-39 1h1m1 0h1m3 0h1m1 0h12m1 0h5m1 0h3m17 0h1m-49 1h1m3 0h1m1 0h10m1 0h2m1 0h6m1 0h4m2 0h1m5 0h2m-54 1h1m4 0h1m2 0h1m6 0h16m1 0h2m1 0h3m5 0h1m1 0h1m-31 1h1m2 0h1m1 0h3m1 0h3m1 0h8m2 0h1m-32 1h1m2 0h1m2 0h1m3 0h3m1 0h1m1 0h8m1 0h3m1 0h5m-32 1h1m2 0h1m3 0h1m2 0h7m1 0h1m1 0h11m1 0h3m-37 1h1m4 0h1m5 0h5m1 0h9m1 0h7m1 0h1m-30 1h2m2 0h14m1 0h2m1 0h3m1 0h1m1 0h1m1 0h2m-34 1h1m2 0h4m1 0h2m1 0h8m1 0h13m-34 1h1m2 0h1m1 0h1m1 0h15m1 0h8m1 0h1m19 0h1m-56 1h1m3 0h13m1 0h8m1 0h4m4 0h2m-36 1h1m4 0h26m2 0h1m1 0h2m3 0h1m-39 1h1m1 0h2m1 0h2m1 0h5m1 0h8m1 0h5m2 0h4m11 0h1m-60 1h1m8 0h1m3 0h1m2 0h1m1 0h25m1 0h1m-34 1h2m4 0h1m1 0h22m3 0h1m-29 1h1m1 0h2m1 0h19m2 0h1m3 0h2m8 0h1m14 0h1m-60 1h3m2 0h1m3 0h12m1 0h5m1 0h3m3 0h1m27 0h1m-68 1h2m1 0h4m2 0h2m1 0h3m1 0h13m1 0h2m1 0h4m20 0h1m-61 1h1m5 0h2m2 0h1m3 0h2m1 0h4m1 0h3m2 0h7m1 0h1m3 0h1m-38 1h1m7 0h1m1 0h2m1 0h5m1 0h11m2 0h3m1 0h3m2 0h1m16 0h1m-50 1h13m1 0h1m1 0h3m2 0h2m2 0h1m1 0h2m1 0h1m-36 1h3m2 0h2m1 0h1m1 0h7m1 0h3m1 0h5m3 0h1m3 0h1m-35 1h9m2 0h5m2 0h8m4 0h1m6 0h1m-52 1h1m9 0h1m7 0h2m2 0h13m1 0h2m1 0h1m1 0h2m22 0h1m-45 1h6m2 0h10m2 0h1m5 0h1m3 0h1m-44 1h1m6 0h1m2 0h1m1 0h3m1 0h1m1 0h13m6 0h2m-32 1h1m3 0h17m2 0h3m5 0h1m1 0h1m-38 1h2m3 0h1m3 0h10m1 0h1m1 0h2m1 0h3m1 0h1m24 0h1m-51 1h1m1 0h2m1 0h1m1 0h5m1 0h9m1 0h1m5 0h1m2 0h1m-41 1h1m4 0h1m2 0h2m1 0h1m1 0h14m2 0h2m1 0h1m1 0h1m6 0h1m-43 1h1m8 0h3m3 0h3m1 0h1m1 0h2m1 0h3m1 0h1m1 0h3m1 0h1m3 0h2m2 0h1m-42 1h1m4 0h2m1 0h2m4 0h1m1 0h6m1 0h1m1 0h2m1 0h4m1 0h1m1 0h1m1 0h2m-33 1h6m2 0h6m1 0h2m1 0h10m1 0h3m3 0h2m-37 1h2m2 0h4m1 0h13m1 0h1m1 0h9m2 0h1m-38 1h3m1 0h1m5 0h1m2 0h12m1 0h6m1 0h2m1 0h1m5 0h1m-52 1h1m10 0h2m2 0h1m1 0h3m2 0h10m1 0h1m1 0h4m3 0h1m2 0h2m-38 1h1m1 0h2m1 0h2m1 0h16m2 0h5m1 0h1m2 0h1m-41 1h1m5 0h1m3 0h1m3 0h15m1 0h4m1 0h2m1 0h3m18 0h1m19 0h1m-77 1h1m2 0h1m1 0h1m4 0h1m1 0h2m1 0h1m1 0h7m1 0h7m2 0h3m2 0h1m-46 1h1m7 0h2m2 0h1m1 0h2m3 0h4m1 0h4m3 0h4m1 0h3m2 0h4m2 0h1m-35 1h1m2 0h2m1 0h2m1 0h3m1 0h1m2 0h3m2 0h1m1 0h1m-31 1h1m1 0h1m1 0h2m4 0h1m2 0h2m4 0h2m2 0h6m1 0h1m5 0h1m-46 1h1m3 0h2m1 0h1m4 0h12m1 0h6m1 0h7m2 0h2m2 0h1m4 0h1" stroke="rgb(228, 38, 48)" stroke-width="1" fill="none"/></g>
<rect x="266.5" y="182.5" width="123.8" height="123.4" fill="none" stroke="#6a6a6a" stroke-width="1.3"/>
<path d="M344 182.5 V305.9 M266.5 237.2 H390.3" stroke="#505050" stroke-width="1.2" fill="none"/>
<path d="M266.5 305.9 v3.5 M266.5 305.9 h-3.5 M297.4 305.9 v3.5 M266.5 275.0 h-3.5 M328.4 305.9 v3.5 M266.5 244.2 h-3.5 M359.4 305.9 v3.5 M266.5 213.3 h-3.5 M390.3 305.9 v3.5 M266.5 182.5 h-3.5 " stroke="#555" stroke-width="1" fill="none"/>
<text x="266.2" y="317.6" text-anchor="end" class="tk">10</text><text x="267.1" y="315.0" class="sup">0</text>
<text x="257.4" y="308.9" text-anchor="end" class="tk">10</text><text x="258.9" y="306.3" class="sup">0</text>
<text x="297.1" y="317.6" text-anchor="end" class="tk">10</text><text x="298.0" y="315.0" class="sup">1</text>
<text x="257.4" y="278.0" text-anchor="end" class="tk">10</text><text x="258.9" y="275.4" class="sup">1</text>
<text x="328.1" y="317.6" text-anchor="end" class="tk">10</text><text x="329.0" y="315.0" class="sup">2</text>
<text x="257.4" y="247.2" text-anchor="end" class="tk">10</text><text x="258.9" y="244.6" class="sup">2</text>
<text x="359.1" y="317.6" text-anchor="end" class="tk">10</text><text x="359.9" y="315.0" class="sup">3</text>
<text x="257.4" y="216.3" text-anchor="end" class="tk">10</text><text x="258.9" y="213.8" class="sup">3</text>
<text x="390.0" y="317.6" text-anchor="end" class="tk">10</text><text x="390.9" y="315.0" class="sup">4</text>
<text x="257.4" y="185.5" text-anchor="end" class="tk">10</text><text x="258.9" y="182.9" class="sup">4</text>
<text x="328.4" y="325.2" text-anchor="middle" class="ax">FITC Log Comp</text>
<text transform="translate(245.3,245.8) rotate(-90)" text-anchor="middle" class="ax" style="font-size:7.91px" textLength="48.7" lengthAdjust="spacingAndGlyphs">PE Log Comp</text>
<text x="268.3" y="191.5" class="rl">R2</text>
<text x="363.5" y="215.2" class="rl">R3</text>
<text x="286.8" y="291.4" class="rl">R4</text>
<text x="348.5" y="291.4" class="rl">R5</text>
<text x="388.1" y="199.9" text-anchor="end" class="pct">2.7%</text>
<g shape-rendering="crispEdges" filter="url(#bl)"><path d="M537 195.5h1m-13 2h1m8 3h1m-4 1h1m-8 1h1m8 3h1m-11 1h1m6 0h1m3 0h1m10 0h1m-18 1h2m2 0h1m1 0h1m5 0h1m2 0h1m-21 1h1m4 0h1m3 0h2m1 0h1m3 0h1m-28 1h1m15 0h2m2 0h1m1 0h1m2 0h2m2 0h1m2 0h1m-22 1h1m1 0h1m1 0h1m1 0h1m2 0h4m1 0h1m3 0h1m-26 1h1m1 0h1m2 0h1m1 0h6m1 0h1m2 0h1m2 0h1m1 0h1m2 0h1m-20 1h1m3 0h1m2 0h2m1 0h2m1 0h1m1 0h1m6 0h2m-25 1h1m1 0h1m3 0h2m1 0h1m1 0h1m1 0h1m3 0h1m1 0h1m2 0h1m-28 1h1m4 0h1m6 0h1m1 0h2m4 0h2m7 0h1m8 0h1m-43 1h1m4 0h1m1 0h1m1 0h3m3 0h2m1 0h1m2 0h3m1 0h1m4 0h1m7 0h3m4 0h1m-41 1h1m2 0h1m2 0h1m3 0h2m2 0h2m4 0h1m10 0h1m-25 1h1m2 0h3m3 0h1m2 0h1m2 0h1m4 0h1m6 0h1m-34 1h1m4 0h1m2 0h1m6 0h1m2 0h1m3 0h1m1 0h1m2 0h1m7 0h2m-41 1h1m11 0h1m1 0h2m4 0h1m2 0h2m3 0h2m1 0h2m1 0h1m5 0h1m-28 1h2m3 0h2m1 0h1m1 0h1m2 0h1m1 0h1m2 0h1m3 0h2m2 0h1m-46 1h1m14 0h1m2 0h1m2 0h1m1 0h2m3 0h1m1 0h2m1 0h2m2 0h1m4 0h1m5 0h1m-34 1h2m2 0h1m8 0h1m2 0h4m2 0h1m1 0h2m1 0h1m1 0h1m-32 1h1m9 0h1m3 0h1m5 0h1m1 0h1m1 0h4m-24 1h2m1 0h1m10 0h3m3 0h3m1 0h3m1 0h1m4 0h1m-33 1h1m4 0h1m1 0h1m4 0h1m2 0h2m1 0h2m1 0h1m3 0h1m2 0h1m1 0h1m1 0h1m-42 1h1m15 0h1m2 0h1m2 0h1m4 0h1m2 0h1m1 0h3m-13 1h1m4 0h2m2 0h2m11 0h1m6 0h1m-47 1h1m13 0h1m4 0h1m3 0h1m4 0h2m-29 1h1m2 0h1m1 0h1m14 0h1m9 0h1m-19 1h1m1 0h1m8 0h2m1 0h3m3 0h1m-20 1h1m8 0h7m1 0h3m-27 1h1m17 0h1m3 0h1m2 0h1m2 0h1m-26 1h1m6 0h1m3 0h1m3 0h2m1 0h4m-23 1h1m13 0h1m7 0h1m1 0h1m-7 1h1m1 0h1m3 0h1m1 0h2m1 0h1m-32 1h1m4 0h1m5 0h1m2 0h1m1 0h2m1 0h1m1 0h5m1 0h1m-21 1h1m12 0h1m1 0h5m1 0h2m-26 1h1m1 0h1m13 0h1m1 0h1m1 0h5m-9 1h1m2 0h2m1 0h1m-33 1h1m26 0h6m1 0h1m3 0h1m-25 1h1m12 0h2m3 0h7m-28 1h1m1 0h1m12 0h3m1 0h5m1 0h1m2 0h1m-46 1h1m13 0h1m5 0h1m19 0h1m2 0h2m-35 1h1m6 0h1m2 0h1m6 0h1m5 0h1m2 0h1m2 0h1m1 0h1m-39 1h1m2 0h1m7 0h1m1 0h1m1 0h1m2 0h1m11 0h3m3 0h1m5 0h1m-41 1h1m1 0h2m1 0h1m3 0h1m4 0h1m2 0h1m15 0h1m1 0h3m1 0h1m4 0h1m-36 1h2m1 0h1m1 0h3m12 0h2m2 0h1m1 0h1m1 0h1m5 0h1m-46 1h1m3 0h1m4 0h1m1 0h1m1 0h2m1 0h2m12 0h1m3 0h2m1 0h1m5 0h1m-48 1h2m5 0h1m6 0h1m1 0h5m1 0h2m11 0h1m7 0h1m-42 1h1m7 0h1m2 0h11m17 0h1m5 0h1m2 0h1m-49 1h1m3 0h2m3 0h2m1 0h1m1 0h2m1 0h3m1 0h1m18 0h1m1 0h1m-41 1h2m3 0h4m1 0h5m1 0h1m14 0h1m5 0h1m4 0h2m-51 1h1m1 0h1m8 0h5m1 0h2m1 0h4m1 0h1m8 0h1m9 0h1m8 0h1m1 0h1m-58 1h1m7 0h1m4 0h1m4 0h1m1 0h5m-31 1h1m11 0h1m2 0h1m1 0h1m4 0h9m2 0h1m12 0h1m11 0h1m-58 1h1m12 0h14m1 0h1m2 0h1m1 0h1m18 0h1m1 0h1m-45 1h1m1 0h1m1 0h2m2 0h6m1 0h4m1 0h1m2 0h1m20 0h1m-48 1h2m2 0h2m2 0h2m2 0h10m1 0h3m-21 1h4m2 0h4m1 0h7m1 0h1m17 0h1m-46 1h1m1 0h1m6 0h4m1 0h10m1 0h2m1 0h1m14 0h1m10 0h1m-58 1h2m7 0h1m2 0h3m1 0h3m1 0h2m1 0h5m1 0h3m15 0h1m-42 1h2m3 0h1m1 0h4m1 0h10m3 0h1m6 0h1m-39 1h1m2 0h2m7 0h1m2 0h8m1 0h3m1 0h1m10 0h1m-41 1h1m4 0h2m1 0h1m1 0h2m1 0h4m1 0h11m1 0h2m2 0h1m-38 1h1m5 0h1m1 0h3m2 0h5m1 0h1m1 0h6m1 0h4m1 0h1m-32 1h1m5 0h1m5 0h2m1 0h3m1 0h12m1 0h2m-33 1h2m1 0h1m1 0h2m2 0h19m1 0h1m2 0h1m15 0h1m-54 1h1m8 0h1m3 0h1m1 0h14m1 0h4m3 0h1m-32 1h1m2 0h6m1 0h3m1 0h1m1 0h13m-39 1h1m5 0h1m1 0h1m1 0h1m3 0h3m1 0h13m1 0h2m2 0h2m1 0h1m26 0h1m-55 1h4m1 0h1m1 0h3m1 0h4m1 0h10m15 0h1m2 0h1m-44 1h4m1 0h2m1 0h10m1 0h1m1 0h2m1 0h1m1 0h1m2 0h1m-39 1h1m3 0h1m3 0h1m1 0h5m2 0h8m1 0h1m1 0h3m1 0h2m1 0h2m-36 1h1m1 0h2m5 0h21m2 0h1m-31 1h2m2 0h10m1 0h7m1 0h4m1 0h2m1 0h2m1 0h2m2 0h1m-45 1h1m2 0h2m1 0h1m2 0h2m2 0h1m1 0h18m1 0h2m2 0h1m10 0h1m3 0h1m-51 1h1m1 0h1m2 0h2m3 0h2m1 0h3m1 0h3m1 0h8m1 0h1m1 0h1m1 0h2m10 0h1m1 0h1m-48 1h2m4 0h6m1 0h18m3 0h1m-34 1h1m1 0h3m2 0h1m2 0h18m1 0h1m25 0h1m-56 1h1m1 0h3m1 0h1m1 0h2m1 0h16m1 0h1m1 0h4m-32 1h2m4 0h1m2 0h3m1 0h5m1 0h7m9 0h1m14 0h1m4 0h1m-58 1h1m3 0h3m1 0h4m3 0h1m1 0h11m1 0h1m1 0h1m30 0h1m-58 1h5m1 0h8m2 0h4m1 0h1m1 0h1m2 0h2m-37 1h1m3 0h2m3 0h10m1 0h1m1 0h8m1 0h1m1 0h1m1 0h1m2 0h1m3 0h1m-41 1h1m2 0h9m1 0h8m1 0h3m1 0h3m1 0h3m1 0h1m16 0h1m-55 1h1m1 0h1m2 0h1m3 0h3m2 0h1m1 0h2m1 0h2m1 0h5m2 0h3m17 0h1m-52 1h1m4 0h1m1 0h2m1 0h6m1 0h1m1 0h5m1 0h2m1 0h5m1 0h1m2 0h1m2 0h1m-42 1h1m2 0h1m3 0h2m1 0h1m2 0h1m1 0h1m1 0h2m1 0h4m1 0h4m2 0h1m2 0h1m2 0h1m1 0h2m-36 1h2m1 0h4m3 0h10m1 0h5m7 0h1m-37 1h1m3 0h1m2 0h1m1 0h10m1 0h3m1 0h2m2 0h8m-33 1h1m1 0h2m2 0h2m1 0h3m1 0h2m1 0h1m1 0h1m1 0h2m1 0h1m2 0h1m4 0h2m-31 1h1m1 0h1m1 0h2m1 0h2m1 0h4m1 0h4m1 0h3m2 0h1m1 0h2m3 0h1m-37 1h1m6 0h1m2 0h1m1 0h2m1 0h8m1 0h1m1 0h1m1 0h1m1 0h3m-36 1h1m6 0h2m5 0h2m1 0h10m1 0h4m2 0h2m2 0h2m-39 1h2m5 0h4m3 0h2m1 0h7m2 0h6m2 0h3m1 0h1m3 0h1m-38 1h1m2 0h5m2 0h5m1 0h3m1 0h3m2 0h1m1 0h7m4 0h1m-38 1h4m1 0h1m1 0h2m1 0h2m1 0h2m1 0h8m2 0h1m1 0h1m1 0h1m2 0h1m1 0h1m-39 1h2m2 0h2m1 0h2m1 0h1m1 0h1m2 0h4m1 0h10m1 0h1m1 0h4m1 0h1m22 0h1m-64 1h2m1 0h1m1 0h1m2 0h1m3 0h3m1 0h2m3 0h9m3 0h1m1 0h1m1 0h2m1 0h1m-33 1h3m2 0h2m1 0h2m2 0h9m2 0h1m2 0h3m-32 1h1m1 0h1m3 0h4m1 0h6m1 0h7m2 0h6m-39 1h1m3 0h1m3 0h1m4 0h1m1 0h5m2 0h6m1 0h5m2 0h3m1 0h1m-41 1h1m9 0h2m2 0h2m1 0h6m1 0h2m1 0h1m3 0h2m4 0h1m1 0h1m2 0h1m1 0h1m-42 1h2m2 0h1m3 0h2m1 0h3m1 0h5m1 0h1m1 0h1m1 0h3m4 0h1m-34 1h1m8 0h1m1 0h3m1 0h3m1 0h1m1 0h1m1 0h2m4 0h4m-34 1h1m2 0h8m1 0h8m2 0h2m1 0h4m5 0h1m1 0h1m1 0h1m2 0h1m10 0h1" stroke="rgb(228, 38, 48)" stroke-width="1" fill="none"/></g>
<rect x="461.2" y="184.5" width="123.3" height="122.5" fill="none" stroke="#6a6a6a" stroke-width="1.3"/>
<path d="M538.8 184.5 V307 M461.2 239.1 H584.5" stroke="#505050" stroke-width="1.2" fill="none"/>
<path d="M461.2 307 v3.5 M461.2 307.0 h-3.5 M492.0 307 v3.5 M461.2 276.4 h-3.5 M522.9 307 v3.5 M461.2 245.8 h-3.5 M553.7 307 v3.5 M461.2 215.1 h-3.5 M584.5 307 v3.5 M461.2 184.5 h-3.5 " stroke="#555" stroke-width="1" fill="none"/>
<text x="460.9" y="318.7" text-anchor="end" class="tk">10</text><text x="461.8" y="316.1" class="sup">0</text>
<text x="452.1" y="310.0" text-anchor="end" class="tk">10</text><text x="453.6" y="307.4" class="sup">0</text>
<text x="491.7" y="318.7" text-anchor="end" class="tk">10</text><text x="492.6" y="316.1" class="sup">1</text>
<text x="452.1" y="279.4" text-anchor="end" class="tk">10</text><text x="453.6" y="276.8" class="sup">1</text>
<text x="522.6" y="318.7" text-anchor="end" class="tk">10</text><text x="523.5" y="316.1" class="sup">2</text>
<text x="452.1" y="248.8" text-anchor="end" class="tk">10</text><text x="453.6" y="246.2" class="sup">2</text>
<text x="553.4" y="318.7" text-anchor="end" class="tk">10</text><text x="554.3" y="316.1" class="sup">3</text>
<text x="452.1" y="218.1" text-anchor="end" class="tk">10</text><text x="453.6" y="215.5" class="sup">3</text>
<text x="584.2" y="318.7" text-anchor="end" class="tk">10</text><text x="585.1" y="316.1" class="sup">4</text>
<text x="452.1" y="187.5" text-anchor="end" class="tk">10</text><text x="453.6" y="184.9" class="sup">4</text>
<text x="522.9" y="326.3" text-anchor="middle" class="ax">FITC Log Comp</text>
<text transform="translate(440.0,246.9) rotate(-90)" text-anchor="middle" class="ax" style="font-size:7.90px" textLength="48.6" lengthAdjust="spacingAndGlyphs">PE Log Comp</text>
<text x="463.0" y="193.5" class="rl">R2</text>
<text x="558.3" y="217.1" class="rl">R3</text>
<text x="481.5" y="292.5" class="rl">R4</text>
<text x="543.3" y="292.5" class="rl">R5</text>
<text x="583.8" y="200.5" text-anchor="end" class="pct">3.7%</text>
<g shape-rendering="crispEdges" filter="url(#bl)"><path d="M722 199.5h1m-6 1h1m-15 1h1m-1 1h1m13 0h1m-15 2h1m18 0h1m-14 1h1m-8 1h1m10 0h1m3 0h1m1 0h1m15 0h1m-25 1h2m2 0h2m3 0h1m19 0h1m-32 1h2m1 0h3m6 0h1m14 0h1m-32 1h1m4 0h5m1 0h3m23 0h1m-38 1h1m3 0h2m1 0h3m1 0h3m2 0h1m1 0h1m20 0h1m-38 1h1m1 0h1m3 0h6m2 0h1m8 0h1m-23 1h2m2 0h1m1 0h6m1 0h1m2 0h2m1 0h1m10 0h2m-40 1h2m3 0h2m3 0h4m1 0h1m3 0h1m5 0h1m10 0h1m1 0h1m-36 1h2m3 0h1m1 0h2m2 0h2m1 0h2m4 0h1m1 0h1m1 0h1m5 0h1m1 0h1m1 0h1m2 0h2m1 0h1m-41 1h2m1 0h1m2 0h2m3 0h1m1 0h5m1 0h1m2 0h1m6 0h2m3 0h1m2 0h1m1 0h1m4 0h1m-46 1h1m3 0h1m1 0h3m2 0h2m1 0h1m2 0h1m4 0h1m5 0h1m1 0h2m4 0h2m-38 1h1m5 0h5m1 0h1m1 0h1m6 0h2m6 0h2m2 0h1m6 0h1m4 0h2m-54 1h1m11 0h1m2 0h2m4 0h1m2 0h1m6 0h1m4 0h1m3 0h1m1 0h1m1 0h1m1 0h3m4 0h1m5 0h1m-64 1h1m9 0h1m2 0h1m1 0h5m1 0h2m1 0h2m3 0h1m3 0h1m10 0h2m4 0h1m2 0h1m2 0h1m1 0h1m-56 1h1m7 0h1m4 0h4m1 0h1m1 0h2m11 0h1m7 0h2m1 0h1m2 0h2m1 0h1m5 0h1m-53 1h1m4 0h2m2 0h1m2 0h1m5 0h1m2 0h1m4 0h1m4 0h1m2 0h3m1 0h4m7 0h1m-43 1h1m1 0h2m1 0h1m1 0h5m1 0h1m16 0h2m1 0h1m2 0h2m5 0h1m-42 1h2m1 0h1m2 0h1m8 0h1m13 0h6m1 0h2m1 0h1m1 0h1m1 0h1m-46 1h1m3 0h1m7 0h1m13 0h1m4 0h1m4 0h1m4 0h1m5 0h1m-41 1h1m2 0h2m9 0h1m4 0h1m2 0h2m1 0h1m1 0h4m2 0h3m-51 1h1m6 0h1m6 0h1m7 0h1m16 0h1m2 0h1m2 0h2m-39 1h2m30 0h1m1 0h1m1 0h2m2 0h2m4 0h1m-52 1h1m5 0h1m10 0h1m10 0h1m5 0h1m4 0h1m3 0h1m4 0h2m1 0h1m-41 1h1m21 0h1m1 0h1m2 0h1m1 0h2m3 0h1m4 0h1m-37 1h1m21 0h1m4 0h1m1 0h2m5 0h1m-44 1h1m30 0h1m2 0h4m1 0h1m1 0h1m8 0h1m1 0h1m-48 1h1m18 0h1m5 0h1m8 0h1m3 0h1m1 0h1m-45 1h1m37 0h2m-18 1h1m1 0h2m6 0h2m1 0h1m7 0h1m-15 1h3m1 0h2m2 0h1m4 0h1m-39 1h1m24 0h1m2 0h3m6 0h1m1 0h1m1 0h1m1 0h1m-35 1h1m18 0h1m1 0h1m4 0h1m4 0h1m2 0h1m-35 1h1m16 0h1m2 0h1m2 0h1m5 0h1m1 0h1m-37 1h1m2 0h1m14 0h1m3 0h1m1 0h1m5 0h1m2 0h3m-32 1h1m2 0h1m5 0h1m9 0h1m3 0h1m1 0h1m1 0h2m4 0h1m-39 1h1m1 0h1m2 0h2m20 0h1m1 0h2m1 0h1m4 0h1m2 0h1m-54 1h1m15 0h2m17 0h2m5 0h1m3 0h1m-44 1h1m11 0h2m15 0h1m3 0h1m2 0h1m3 0h1m1 0h1m-34 1h1m1 0h2m2 0h2m21 0h1m3 0h1m2 0h1m3 0h1m2 0h1m-61 1h1m8 0h1m2 0h1m3 0h1m1 0h3m1 0h1m1 0h1m20 0h1m4 0h1m2 0h1m-53 1h1m8 0h2m9 0h1m1 0h1m17 0h1m7 0h1m3 0h2m-53 1h1m2 0h1m3 0h2m6 0h2m3 0h2m26 0h1m-38 1h1m2 0h6m3 0h2m13 0h2m7 0h1m1 0h1m-52 1h1m8 0h1m2 0h1m4 0h2m1 0h2m4 0h1m23 0h1m-38 1h4m1 0h1m2 0h3m11 0h1m12 0h1m7 0h1m-55 1h1m2 0h1m6 0h1m1 0h9m1 0h2m28 0h1m5 0h1m-58 1h1m4 0h1m1 0h1m4 0h2m1 0h2m1 0h1m1 0h2m26 0h3m2 0h1m-50 1h1m2 0h5m1 0h5m1 0h4m12 0h1m-33 1h2m1 0h1m1 0h1m2 0h1m1 0h6m1 0h3m20 0h1m1 0h1m-58 1h1m6 0h1m1 0h1m8 0h1m1 0h9m1 0h4m5 0h1m17 0h1m2 0h1m-49 1h2m2 0h1m3 0h3m1 0h9m16 0h1m-39 1h1m2 0h3m3 0h6m1 0h3m1 0h2m-31 1h1m1 0h1m1 0h1m1 0h2m1 0h1m4 0h14m2 0h1m5 0h1m-37 1h2m7 0h1m1 0h1m1 0h1m1 0h17m-24 1h2m1 0h1m1 0h4m1 0h13m34 0h1m-57 1h1m2 0h4m1 0h5m1 0h9m-32 1h1m2 0h3m1 0h1m1 0h3m1 0h2m1 0h7m2 0h2m2 0h1m1 0h1m18 0h1m-52 1h1m3 0h3m1 0h2m2 0h4m2 0h8m1 0h4m-27 1h1m2 0h1m2 0h2m1 0h3m1 0h4m1 0h4m1 0h2m1 0h1m18 0h1m-54 1h2m5 0h1m2 0h1m1 0h1m2 0h2m1 0h1m1 0h1m1 0h8m1 0h1m1 0h1m1 0h1m-35 1h1m5 0h11m1 0h12m2 0h1m2 0h1m22 0h1m10 0h1m-66 1h1m2 0h1m2 0h2m1 0h12m1 0h2m1 0h6m23 0h1m-63 1h2m2 0h1m3 0h1m2 0h2m1 0h1m1 0h4m1 0h12m1 0h4m-36 1h2m3 0h1m1 0h2m3 0h3m1 0h8m1 0h3m1 0h2m1 0h3m-25 1h2m1 0h18m1 0h3m1 0h3m10 0h1m-59 1h1m13 0h1m1 0h1m1 0h6m2 0h11m2 0h3m1 0h2m1 0h2m9 0h1m-46 1h2m1 0h2m1 0h13m1 0h4m1 0h4m2 0h3m1 0h1m-35 1h1m1 0h1m1 0h6m1 0h3m1 0h16m-27 1h6m1 0h11m1 0h8m8 0h1m-39 1h1m2 0h1m1 0h1m1 0h7m1 0h12m1 0h1m3 0h1m2 0h1m-41 1h5m2 0h5m1 0h1m1 0h5m1 0h6m2 0h2m1 0h2m1 0h1m9 0h1m12 0h1m-56 1h1m3 0h1m1 0h10m1 0h4m1 0h4m1 0h4m-38 1h1m1 0h1m6 0h1m2 0h5m1 0h12m1 0h2m1 0h2m1 0h3m8 0h1m10 0h1m-57 1h1m5 0h3m3 0h10m2 0h6m1 0h4m2 0h1m-34 1h2m3 0h20m2 0h3m1 0h2m1 0h1m11 0h1m-59 1h1m10 0h3m3 0h5m1 0h15m1 0h1m1 0h3m14 0h1m-55 1h1m4 0h2m2 0h22m1 0h2m1 0h3m1 0h1m-30 1h2m1 0h17m1 0h1m2 0h1m2 0h1m17 0h1m-53 1h2m2 0h7m1 0h5m1 0h6m1 0h5m2 0h2m-34 1h1m2 0h1m2 0h1m1 0h2m1 0h3m1 0h11m1 0h1m3 0h2m1 0h1m1 0h1m24 0h1m-59 1h2m1 0h18m1 0h2m1 0h2m3 0h2m2 0h1m-43 1h1m10 0h4m1 0h5m1 0h16m-29 1h2m1 0h3m1 0h2m1 0h10m1 0h3m2 0h1m1 0h2m1 0h2m4 0h1m-46 1h2m3 0h1m1 0h1m2 0h1m1 0h6m2 0h4m2 0h5m2 0h3m5 0h1m-29 1h1m1 0h4m1 0h8m3 0h1m2 0h1m2 0h1m3 0h1m-45 1h1m6 0h1m1 0h1m3 0h3m1 0h7m1 0h5m1 0h2m1 0h3m2 0h1m2 0h1m-37 1h5m1 0h1m5 0h1m1 0h3m1 0h1m1 0h1m1 0h2m2 0h3m1 0h1m1 0h1m-34 1h1m2 0h5m1 0h2m1 0h7m1 0h1m1 0h4m1 0h1m2 0h3m3 0h1m4 0h2m-46 1h1m7 0h2m2 0h5m1 0h9m1 0h2m1 0h1m2 0h1m2 0h2m5 0h2m-47 1h1m3 0h1m5 0h1m1 0h6m1 0h22m1 0h1m3 0h1m-43 1h1m4 0h2m1 0h1m1 0h1m2 0h18m1 0h1m2 0h1m1 0h1m-45 1h1m5 0h1m5 0h1m2 0h3m2 0h1m3 0h13m1 0h1m4 0h1m1 0h1m-35 1h1m1 0h1m1 0h2m2 0h7m1 0h12m2 0h7m11 0h2m-56 1h1m6 0h3m1 0h1m1 0h2m1 0h4m2 0h5m1 0h5m2 0h3m1 0h2m-40 1h2m6 0h1m1 0h1m1 0h1m1 0h3m1 0h12m1 0h8m2 0h1m-43 1h1m2 0h1m1 0h1m1 0h2m1 0h1m1 0h3m1 0h2m1 0h8m1 0h4m1 0h2m1 0h1m1 0h6m-39 1h2m1 0h1m2 0h5m1 0h10m1 0h2m1 0h7m2 0h1m4 0h1m-44 1h1m8 0h1m1 0h2m1 0h1m2 0h2m1 0h2m1 0h6m3 0h1m1 0h2m3 0h1m5 0h1m-45 1h1m2 0h2m2 0h3m2 0h2m1 0h1m1 0h3m1 0h5m1 0h2m2 0h1m1 0h2m5 0h1m-46 1h1m6 0h1m5 0h1m9 0h1m2 0h4m2 0h3m5 0h1m4 0h1m-47 1h1m2 0h7m2 0h3m1 0h10m2 0h6m1 0h1m3 0h1m2 0h1m4 0h1" stroke="rgb(228, 38, 48)" stroke-width="1" fill="none"/></g>
<rect x="644.2" y="184.5" width="124.1" height="122.8" fill="none" stroke="#6a6a6a" stroke-width="1.3"/>
<path d="M721.9 184.5 V307.3 M644.2 239.1 H768.3" stroke="#505050" stroke-width="1.2" fill="none"/>
<path d="M644.2 307.3 v3.5 M644.2 307.3 h-3.5 M675.2 307.3 v3.5 M644.2 276.6 h-3.5 M706.2 307.3 v3.5 M644.2 245.9 h-3.5 M737.3 307.3 v3.5 M644.2 215.2 h-3.5 M768.3 307.3 v3.5 M644.2 184.5 h-3.5 " stroke="#555" stroke-width="1" fill="none"/>
<text x="643.9" y="319.0" text-anchor="end" class="tk">10</text><text x="644.8" y="316.4" class="sup">0</text>
<text x="635.1" y="310.3" text-anchor="end" class="tk">10</text><text x="636.6" y="307.7" class="sup">0</text>
<text x="674.9" y="319.0" text-anchor="end" class="tk">10</text><text x="675.8" y="316.4" class="sup">1</text>
<text x="635.1" y="279.6" text-anchor="end" class="tk">10</text><text x="636.6" y="277.0" class="sup">1</text>
<text x="706.0" y="319.0" text-anchor="end" class="tk">10</text><text x="706.9" y="316.4" class="sup">2</text>
<text x="635.1" y="248.9" text-anchor="end" class="tk">10</text><text x="636.6" y="246.3" class="sup">2</text>
<text x="737.0" y="319.0" text-anchor="end" class="tk">10</text><text x="737.9" y="316.4" class="sup">3</text>
<text x="635.1" y="218.2" text-anchor="end" class="tk">10</text><text x="636.6" y="215.6" class="sup">3</text>
<text x="768.0" y="319.0" text-anchor="end" class="tk">10</text><text x="768.9" y="316.4" class="sup">4</text>
<text x="635.1" y="187.5" text-anchor="end" class="tk">10</text><text x="636.6" y="184.9" class="sup">4</text>
<text x="706.2" y="326.6" text-anchor="middle" class="ax">FITC Log Comp</text>
<text transform="translate(623.0,246.9) rotate(-90)" text-anchor="middle" class="ax" style="font-size:7.90px" textLength="48.6" lengthAdjust="spacingAndGlyphs">PE Log Comp</text>
<text x="646.0" y="193.5" class="rl">R2</text>
<text x="741.4" y="217.1" class="rl">R3</text>
<text x="664.5" y="292.8" class="rl">R4</text>
<text x="726.4" y="292.8" class="rl">R5</text>
<text x="766.5" y="201.1" text-anchor="end" class="pct">2.7%</text>
<text x="227.8" y="403.8" class="bb" style="font-size:13px">B</text>
<path d="M277 405.1 V578.6 H536.6" fill="none" stroke="#000" stroke-width="2.4"/>
<text x="269.6" y="583.9" text-anchor="end" class="bb" style="font-size:14.5px">0</text>
<text x="269.6" y="549.4" text-anchor="end" class="bb" style="font-size:14.5px">1</text>
<text x="269.6" y="514.9" text-anchor="end" class="bb" style="font-size:14.5px">2</text>
<text x="269.6" y="480.4" text-anchor="end" class="bb" style="font-size:14.5px">3</text>
<text x="269.6" y="445.9" text-anchor="end" class="bb" style="font-size:14.5px">4</text>
<text x="269.6" y="411.4" text-anchor="end" class="bb" style="font-size:14.5px">5</text>
<path d="M277 578.6 H271.8 M277 544.1 H271.8 M277 509.6 H271.8 M277 475.1 H271.8 M277 440.6 H271.8 M277 406.1 H271.8 M340.6 578.6 V584.6 M470.1 578.6 V584.6" stroke="#000" stroke-width="2" fill="none"/>
<text transform="translate(237.8,491.4) rotate(-90)" text-anchor="middle" class="rg" style="font-size:15px">Late-phase apoptosis</text>
<text transform="translate(255.8,491.3) rotate(-90)" text-anchor="middle" class="rg" style="font-size:15px">(Fold-increase)</text>
<path d="M299.9 534.8 V532.8 M295.4 532.8 H304.4" stroke="#000" stroke-width="1.8" fill="none"/>
<rect x="290.8" y="536.0" width="18.4" height="42.6" fill="#fff" stroke="#000" stroke-width="2.5"/>
<path d="M327.6 537.8 V534.0 M323.1 534.0 H332.1" stroke="#000" stroke-width="1.8" fill="none"/>
<rect x="318.6" y="539.0" width="18.0" height="39.6" fill="url(#hf)" stroke="#000" stroke-width="2.5"/>
<path d="M355.5 494.4 V475.7 M351.0 475.7 H360.0" stroke="#000" stroke-width="1.8" fill="none"/>
<rect x="346.6" y="495.6" width="17.7" height="83.0" fill="#000" stroke="#000" stroke-width="2.5"/>
<path d="M383.6 475.4 V450.0 M379.1 450.0 H388.1" stroke="#000" stroke-width="1.8" fill="none"/>
<rect x="374.9" y="476.6" width="17.4" height="102.0" fill="url(#hb)" stroke="#000" stroke-width="2.5"/>
<path d="M429.1 541.5 V537.2 M424.6 537.2 H433.6" stroke="#000" stroke-width="1.8" fill="none"/>
<rect x="420.4" y="542.8" width="17.6" height="35.9" fill="#fff" stroke="#000" stroke-width="2.5"/>
<path d="M456.9 539.2 V535.0 M452.4 535.0 H461.4" stroke="#000" stroke-width="1.8" fill="none"/>
<rect x="448.2" y="540.5" width="17.3" height="38.1" fill="url(#hf)" stroke="#000" stroke-width="2.5"/>
<path d="M485.0 539.7 V537.2 M480.5 537.2 H489.5" stroke="#000" stroke-width="1.8" fill="none"/>
<rect x="476.2" y="541.0" width="17.5" height="37.6" fill="#000" stroke="#000" stroke-width="2.5"/>
<path d="M512.4 526.4 V523.7 M507.9 523.7 H516.9" stroke="#000" stroke-width="1.8" fill="none"/>
<rect x="503.2" y="527.6" width="18.2" height="51.0" fill="url(#hb)" stroke="#000" stroke-width="2.5"/>
<text x="382.5" y="445.8" text-anchor="middle" class="bb" style="font-size:14px">*</text>
<text x="340.8" y="597.7" text-anchor="middle" class="bb" style="font-size:14px">Leu/Leu</text>
<text x="470.3" y="597.7" text-anchor="middle" class="bb" style="font-size:14px">Phe/Phe</text>
<rect x="287.5" y="396.0" width="18.4" height="8.1" fill="#fff" stroke="#000" stroke-width="2.4"/>
<text x="316.0" y="404.2" class="bb" style="font-size:12.6px" textLength="50.6" lengthAdjust="spacingAndGlyphs">Medium</text>
<rect x="287.5" y="416.8" width="18.4" height="8.1" fill="url(#hf)" stroke="#000" stroke-width="2.4"/>
<text x="316.0" y="425.0" class="bb" style="font-size:12.6px" textLength="76.2" lengthAdjust="spacingAndGlyphs">1 μg/ml PIC</text>
<rect x="402.1" y="396.0" width="18.4" height="8.1" fill="#000" stroke="#000" stroke-width="2.4"/>
<text x="429.9" y="404.2" class="bb" style="font-size:12.6px" textLength="84.0" lengthAdjust="spacingAndGlyphs">10 μg/ml PIC</text>
<rect x="402.1" y="416.8" width="18.4" height="8.1" fill="url(#hb)" stroke="#000" stroke-width="2.4"/>
<text x="429.9" y="425.0" class="bb" style="font-size:12.6px" textLength="91.8" lengthAdjust="spacingAndGlyphs">100 μg/ml PIC</text>
</svg></body></html>
